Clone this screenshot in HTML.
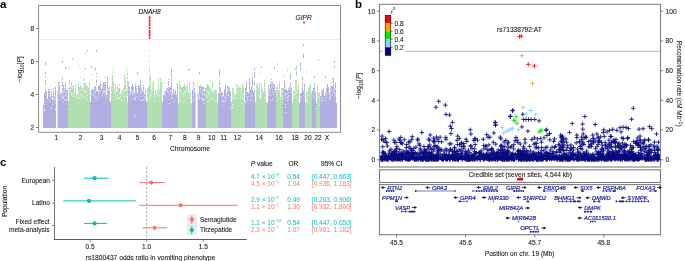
<!DOCTYPE html>
<html><head><meta charset="utf-8"><style>
html,body{margin:0;padding:0;background:#fff;}
body{width:685px;height:261px;overflow:hidden;}
svg{display:block;will-change:transform;}
.t{font-family:"Liberation Sans", sans-serif;font-size:6.6px;fill:#111;stroke:#111;stroke-width:0.07px;}
.g{font-family:"Liberation Sans", sans-serif;font-size:5.8px;font-style:italic;fill:#23239a;stroke:#23239a;stroke-width:0.2px;}
.pl{font-family:"Liberation Sans", sans-serif;font-size:11.5px;font-weight:bold;fill:#000;}
</style></head><body>
<svg width="685" height="261" viewBox="0 0 685 261">
<rect width="685" height="261" fill="#fff"/>
<g shape-rendering="crispEdges">
<rect x="43.40" y="105.10" width="24.90" height="22.40" fill="#b1afe1"/>
<rect x="68.30" y="100.97" width="22.10" height="26.53" fill="#b0dfb0"/>
<rect x="90.40" y="101.80" width="20.40" height="25.70" fill="#b1afe1"/>
<rect x="110.80" y="101.80" width="16.90" height="25.70" fill="#b0dfb0"/>
<rect x="127.70" y="101.80" width="19.00" height="25.70" fill="#b1afe1"/>
<rect x="146.70" y="100.97" width="15.60" height="26.53" fill="#b0dfb0"/>
<rect x="162.30" y="101.80" width="16.00" height="25.70" fill="#b1afe1"/>
<rect x="178.30" y="102.62" width="13.20" height="24.88" fill="#b0dfb0"/>
<rect x="191.50" y="101.80" width="14.50" height="25.70" fill="#b1afe1"/>
<rect x="206.00" y="102.62" width="11.50" height="24.88" fill="#b0dfb0"/>
<rect x="217.50" y="101.80" width="13.90" height="25.70" fill="#b1afe1"/>
<rect x="231.40" y="101.80" width="13.10" height="25.70" fill="#b0dfb0"/>
<rect x="244.50" y="102.62" width="10.90" height="24.88" fill="#b1afe1"/>
<rect x="255.40" y="101.80" width="11.20" height="25.70" fill="#b0dfb0"/>
<rect x="267.20" y="102.62" width="8.80" height="24.88" fill="#b1afe1"/>
<rect x="276.00" y="102.62" width="7.00" height="24.88" fill="#b0dfb0"/>
<rect x="283.00" y="101.80" width="9.30" height="25.70" fill="#b1afe1"/>
<rect x="292.30" y="102.62" width="6.80" height="24.88" fill="#b0dfb0"/>
<rect x="299.10" y="102.62" width="6.30" height="24.88" fill="#b1afe1"/>
<rect x="305.40" y="102.62" width="6.60" height="24.88" fill="#b0dfb0"/>
<rect x="312.00" y="103.45" width="4.30" height="24.05" fill="#b1afe1"/>
<rect x="316.30" y="102.62" width="3.70" height="24.88" fill="#b0dfb0"/>
<rect x="320.00" y="102.62" width="16.50" height="24.88" fill="#b1afe1"/>
</g>
<path shape-rendering="crispEdges" fill="#b1afe1" d="M44 104.6h1V105.6h-1zM45 103.1h1V105.6h-1zM46 103.4h1V105.6h-1zM47 104.3h1V105.6h-1zM48 103.9h1V105.6h-1zM49 101.4h1V105.6h-1zM50 102.3h1V105.6h-1zM51 101.5h1V105.6h-1zM52 104.9h1V105.6h-1zM53 102.8h1V105.6h-1zM54 103.5h1V105.6h-1zM55 104.3h1V105.6h-1zM56 98.6h1V105.6h-1zM57 103.1h1V105.6h-1zM58 100.7h1V105.6h-1zM59 103.5h1V105.6h-1zM60 101.0h1V105.6h-1zM61 101.1h1V105.6h-1zM62 101.8h1V105.6h-1zM63 102.7h1V105.6h-1zM64 101.7h1V105.6h-1zM65 104.5h1V105.6h-1zM66 104.3h1V105.6h-1zM67 103.8h1V105.6h-1zM91 98.0h1V102.3h-1zM92 95.1h1V102.3h-1zM93 101.5h1V102.3h-1zM94 97.6h1V102.3h-1zM95 99.1h1V102.3h-1zM96 99.4h1V102.3h-1zM97 101.6h1V102.3h-1zM98 94.6h1V102.3h-1zM99 97.4h1V102.3h-1zM100 94.4h1V102.3h-1zM101 99.2h1V102.3h-1zM102 99.4h1V102.3h-1zM103 95.7h1V102.3h-1zM104 96.4h1V102.3h-1zM105 98.7h1V102.3h-1zM106 100.2h1V102.3h-1zM107 94.8h1V102.3h-1zM108 99.3h1V102.3h-1zM109 101.5h1V102.3h-1zM128 95.2h1V102.3h-1zM129 100.1h1V102.3h-1zM130 101.5h1V102.3h-1zM131 100.6h1V102.3h-1zM132 97.2h1V102.3h-1zM133 101.7h1V102.3h-1zM134 100.2h1V102.3h-1zM135 99.8h1V102.3h-1zM136 99.3h1V102.3h-1zM137 101.4h1V102.3h-1zM138 96.8h1V102.3h-1zM139 100.2h1V102.3h-1zM140 95.7h1V102.3h-1zM141 99.9h1V102.3h-1zM142 99.7h1V102.3h-1zM143 101.6h1V102.3h-1zM144 99.6h1V102.3h-1zM145 100.1h1V102.3h-1zM163 98.6h1V102.3h-1zM164 101.5h1V102.3h-1zM165 98.5h1V102.3h-1zM166 101.6h1V102.3h-1zM167 96.9h1V102.3h-1zM168 95.8h1V102.3h-1zM169 99.5h1V102.3h-1zM170 100.2h1V102.3h-1zM171 99.1h1V102.3h-1zM172 101.2h1V102.3h-1zM173 97.4h1V102.3h-1zM174 100.8h1V102.3h-1zM175 96.9h1V102.3h-1zM176 98.6h1V102.3h-1zM177 98.0h1V102.3h-1zM192 96.0h1V102.3h-1zM193 101.8h1V102.3h-1zM194 100.5h1V102.3h-1zM195 100.4h1V102.3h-1zM196 99.3h1V102.3h-1zM197 99.8h1V102.3h-1zM198 101.2h1V102.3h-1zM199 97.6h1V102.3h-1zM200 92.9h1V102.3h-1zM201 98.6h1V102.3h-1zM202 99.5h1V102.3h-1zM203 101.1h1V102.3h-1zM204 101.5h1V102.3h-1zM205 100.3h1V102.3h-1zM218 101.6h1V102.3h-1zM219 95.7h1V102.3h-1zM220 97.4h1V102.3h-1zM221 99.7h1V102.3h-1zM222 101.8h1V102.3h-1zM223 101.0h1V102.3h-1zM224 99.7h1V102.3h-1zM225 99.9h1V102.3h-1zM226 101.6h1V102.3h-1zM227 96.3h1V102.3h-1zM228 96.4h1V102.3h-1zM229 98.5h1V102.3h-1zM230 101.6h1V102.3h-1zM245 98.1h1V103.1h-1zM246 96.9h1V103.1h-1zM247 101.5h1V103.1h-1zM248 100.0h1V103.1h-1zM249 96.1h1V103.1h-1zM250 102.6h1V103.1h-1zM251 99.1h1V103.1h-1zM252 96.3h1V103.1h-1zM253 100.8h1V103.1h-1zM254 96.0h1V103.1h-1zM268 95.1h1V103.1h-1zM269 101.7h1V103.1h-1zM270 97.7h1V103.1h-1zM271 93.3h1V103.1h-1zM272 101.1h1V103.1h-1zM273 100.0h1V103.1h-1zM274 97.8h1V103.1h-1zM275 97.7h1V103.1h-1zM283 101.4h1V102.3h-1zM284 100.1h1V102.3h-1zM285 100.9h1V102.3h-1zM286 99.0h1V102.3h-1zM287 99.5h1V102.3h-1zM288 101.0h1V102.3h-1zM289 97.6h1V102.3h-1zM290 88.5h1V102.3h-1zM291 96.4h1V102.3h-1zM300 102.0h1V103.1h-1zM301 97.8h1V103.1h-1zM302 89.0h1V103.1h-1zM303 100.5h1V103.1h-1zM304 96.6h1V103.1h-1zM312 98.8h1V103.9h-1zM313 102.8h1V103.9h-1zM314 97.8h1V103.9h-1zM315 101.7h1V103.9h-1zM320 101.2h1V103.1h-1zM321 101.5h1V103.1h-1zM322 101.2h1V103.1h-1zM323 100.7h1V103.1h-1zM324 102.4h1V103.1h-1zM325 101.7h1V103.1h-1zM326 98.8h1V103.1h-1zM327 99.5h1V103.1h-1zM328 96.4h1V103.1h-1zM329 100.8h1V103.1h-1zM330 102.4h1V103.1h-1zM331 95.6h1V103.1h-1zM332 100.2h1V103.1h-1zM333 92.2h1V103.1h-1zM334 99.2h1V103.1h-1zM335 101.9h1V103.1h-1z"/>
<path shape-rendering="crispEdges" fill="#b0dfb0" d="M69 94.3h1V101.5h-1zM70 98.8h1V101.5h-1zM71 96.3h1V101.5h-1zM72 97.0h1V101.5h-1zM73 97.3h1V101.5h-1zM74 97.3h1V101.5h-1zM75 100.5h1V101.5h-1zM76 100.9h1V101.5h-1zM77 99.6h1V101.5h-1zM78 101.0h1V101.5h-1zM79 100.4h1V101.5h-1zM80 98.9h1V101.5h-1zM81 98.1h1V101.5h-1zM82 98.3h1V101.5h-1zM83 100.1h1V101.5h-1zM84 99.1h1V101.5h-1zM85 97.0h1V101.5h-1zM86 100.8h1V101.5h-1zM87 98.7h1V101.5h-1zM88 94.6h1V101.5h-1zM89 95.2h1V101.5h-1zM111 97.9h1V102.3h-1zM112 88.6h1V102.3h-1zM113 92.8h1V102.3h-1zM114 101.7h1V102.3h-1zM115 98.5h1V102.3h-1zM116 100.4h1V102.3h-1zM117 95.8h1V102.3h-1zM118 99.7h1V102.3h-1zM119 100.1h1V102.3h-1zM120 98.4h1V102.3h-1zM121 99.9h1V102.3h-1zM122 100.3h1V102.3h-1zM123 96.7h1V102.3h-1zM124 93.2h1V102.3h-1zM125 96.4h1V102.3h-1zM126 101.3h1V102.3h-1zM147 100.8h1V101.5h-1zM148 95.9h1V101.5h-1zM149 100.3h1V101.5h-1zM150 98.1h1V101.5h-1zM151 95.8h1V101.5h-1zM152 92.8h1V101.5h-1zM153 98.7h1V101.5h-1zM154 100.8h1V101.5h-1zM155 97.5h1V101.5h-1zM156 97.8h1V101.5h-1zM157 100.2h1V101.5h-1zM158 97.5h1V101.5h-1zM159 100.1h1V101.5h-1zM160 94.5h1V101.5h-1zM161 99.8h1V101.5h-1zM179 94.8h1V103.1h-1zM180 102.5h1V103.1h-1zM181 100.6h1V103.1h-1zM182 94.0h1V103.1h-1zM183 102.0h1V103.1h-1zM184 101.8h1V103.1h-1zM185 97.9h1V103.1h-1zM186 98.2h1V103.1h-1zM187 99.7h1V103.1h-1zM188 98.3h1V103.1h-1zM189 96.8h1V103.1h-1zM190 99.5h1V103.1h-1zM206 101.9h1V103.1h-1zM207 98.2h1V103.1h-1zM208 96.3h1V103.1h-1zM209 102.1h1V103.1h-1zM210 98.2h1V103.1h-1zM211 101.3h1V103.1h-1zM212 99.7h1V103.1h-1zM213 101.9h1V103.1h-1zM214 102.4h1V103.1h-1zM215 101.6h1V103.1h-1zM216 99.8h1V103.1h-1zM232 98.9h1V102.3h-1zM233 98.6h1V102.3h-1zM234 98.8h1V102.3h-1zM235 100.3h1V102.3h-1zM236 101.0h1V102.3h-1zM237 96.9h1V102.3h-1zM238 95.2h1V102.3h-1zM239 98.1h1V102.3h-1zM240 99.9h1V102.3h-1zM241 99.4h1V102.3h-1zM242 101.7h1V102.3h-1zM243 98.7h1V102.3h-1zM256 100.2h1V102.3h-1zM257 95.0h1V102.3h-1zM258 99.4h1V102.3h-1zM259 96.7h1V102.3h-1zM260 101.8h1V102.3h-1zM261 100.3h1V102.3h-1zM262 97.8h1V102.3h-1zM263 99.8h1V102.3h-1zM264 94.0h1V102.3h-1zM265 94.0h1V102.3h-1zM276 100.9h1V103.1h-1zM277 99.4h1V103.1h-1zM278 97.5h1V103.1h-1zM279 93.9h1V103.1h-1zM280 102.3h1V103.1h-1zM281 99.1h1V103.1h-1zM282 98.8h1V103.1h-1zM293 99.3h1V103.1h-1zM294 102.6h1V103.1h-1zM295 100.1h1V103.1h-1zM296 101.4h1V103.1h-1zM297 95.1h1V103.1h-1zM298 98.0h1V103.1h-1zM306 100.8h1V103.1h-1zM307 102.0h1V103.1h-1zM308 97.7h1V103.1h-1zM309 97.0h1V103.1h-1zM310 94.0h1V103.1h-1zM311 102.4h1V103.1h-1zM317 99.9h1V103.1h-1zM318 97.3h1V103.1h-1zM319 101.0h1V103.1h-1z"/>
<path shape-rendering="crispEdges" fill="#d4d3ee" d="M44 93.7h1V104.6h-1zM45 91.2h1V103.1h-1zM46 93.2h1V103.4h-1zM47 100.0h1V104.3h-1zM48 90.4h1V103.9h-1zM49 90.5h1V101.4h-1zM50 97.3h1V102.3h-1zM51 90.6h1V101.5h-1zM52 100.8h1V104.9h-1zM53 90.0h1V102.8h-1zM54 96.0h1V103.5h-1zM55 87.9h1V104.3h-1zM56 90.2h1V98.6h-1zM57 91.8h1V103.1h-1zM58 84.9h1V100.7h-1zM59 85.1h1V103.5h-1zM60 95.3h1V101.0h-1zM61 93.4h1V101.1h-1zM62 89.9h1V101.8h-1zM63 86.1h1V102.7h-1zM64 90.3h1V101.7h-1zM65 87.4h1V104.5h-1zM66 91.0h1V104.3h-1zM67 90.7h1V103.8h-1zM91 91.5h1V98.0h-1zM92 90.3h1V95.1h-1zM93 91.7h1V101.5h-1zM94 86.7h1V97.6h-1zM95 88.3h1V99.1h-1zM96 90.6h1V99.4h-1zM97 91.6h1V101.6h-1zM98 87.6h1V94.6h-1zM99 86.8h1V97.4h-1zM100 82.9h1V94.4h-1zM101 90.4h1V99.2h-1zM102 87.0h1V99.4h-1zM103 83.0h1V95.7h-1zM104 83.6h1V96.4h-1zM105 84.6h1V98.7h-1zM106 95.7h1V100.2h-1zM107 80.1h1V94.8h-1zM108 90.0h1V99.3h-1zM109 89.6h1V101.5h-1zM128 84.0h1V95.2h-1zM129 88.7h1V100.1h-1zM130 93.7h1V101.5h-1zM131 87.4h1V100.6h-1zM132 85.4h1V97.2h-1zM133 87.2h1V101.7h-1zM134 92.8h1V100.2h-1zM135 85.5h1V99.8h-1zM136 88.4h1V99.3h-1zM137 93.3h1V101.4h-1zM138 88.0h1V96.8h-1zM139 86.6h1V100.2h-1zM140 81.6h1V95.7h-1zM141 90.4h1V99.9h-1zM142 90.5h1V99.7h-1zM143 86.8h1V101.6h-1zM144 94.4h1V99.6h-1zM145 91.1h1V100.1h-1zM163 95.4h1V98.6h-1zM164 91.4h1V101.5h-1zM165 91.8h1V98.5h-1zM166 87.6h1V101.6h-1zM167 89.1h1V96.9h-1zM168 80.9h1V95.8h-1zM169 88.9h1V99.5h-1zM170 88.6h1V100.2h-1zM171 82.2h1V99.1h-1zM172 93.9h1V101.2h-1zM173 89.7h1V97.4h-1zM174 92.8h1V100.8h-1zM175 90.9h1V96.9h-1zM176 94.2h1V98.6h-1zM177 83.9h1V98.0h-1zM192 90.6h1V96.0h-1zM193 84.4h1V101.8h-1zM194 90.2h1V100.5h-1zM195 95.2h1V100.4h-1zM196 90.0h1V99.3h-1zM197 87.2h1V99.8h-1zM198 94.4h1V101.2h-1zM199 87.9h1V97.6h-1zM200 86.3h1V92.9h-1zM201 89.1h1V98.6h-1zM202 88.3h1V99.5h-1zM203 88.3h1V101.1h-1zM204 91.8h1V101.5h-1zM205 90.1h1V100.3h-1zM218 94.5h1V101.6h-1zM219 86.2h1V95.7h-1zM220 87.7h1V97.4h-1zM221 93.2h1V99.7h-1zM222 94.5h1V101.8h-1zM223 95.6h1V101.0h-1zM224 90.4h1V99.7h-1zM225 87.1h1V99.9h-1zM226 95.0h1V101.6h-1zM227 86.7h1V96.3h-1zM228 88.5h1V96.4h-1zM229 87.5h1V98.5h-1zM230 92.8h1V101.6h-1zM245 87.6h1V98.1h-1zM246 84.3h1V96.9h-1zM247 93.1h1V101.5h-1zM248 92.9h1V100.0h-1zM249 80.4h1V96.1h-1zM250 92.2h1V102.6h-1zM251 88.7h1V99.1h-1zM252 77.5h1V96.3h-1zM253 93.5h1V100.8h-1zM254 90.0h1V96.0h-1zM268 85.0h1V95.1h-1zM269 87.5h1V101.7h-1zM270 85.2h1V97.7h-1zM271 81.3h1V93.3h-1zM272 83.6h1V101.1h-1zM273 86.4h1V100.0h-1zM274 87.0h1V97.8h-1zM275 91.3h1V97.7h-1zM283 90.4h1V101.4h-1zM284 82.8h1V100.1h-1zM285 89.3h1V100.9h-1zM286 90.8h1V99.0h-1zM287 91.2h1V99.5h-1zM288 89.9h1V101.0h-1zM289 88.2h1V97.6h-1zM290 83.0h1V88.5h-1zM291 89.1h1V96.4h-1zM300 92.5h1V102.0h-1zM301 93.4h1V97.8h-1zM302 77.1h1V89.0h-1zM303 92.4h1V100.5h-1zM304 84.5h1V96.6h-1zM312 91.9h1V98.8h-1zM313 90.0h1V102.8h-1zM314 84.2h1V97.8h-1zM315 93.5h1V101.7h-1zM320 96.3h1V101.2h-1zM321 90.5h1V101.5h-1zM322 89.9h1V101.2h-1zM323 87.7h1V100.7h-1zM324 96.6h1V102.4h-1zM325 93.0h1V101.7h-1zM326 88.5h1V98.8h-1zM327 85.5h1V99.5h-1zM328 88.4h1V96.4h-1zM329 94.0h1V100.8h-1zM330 88.7h1V102.4h-1zM331 87.0h1V95.6h-1zM332 87.9h1V100.2h-1zM333 79.9h1V92.2h-1zM334 90.0h1V99.2h-1zM335 86.2h1V101.9h-1z"/>
<path shape-rendering="crispEdges" fill="#d3edd3" d="M69 81.7h1V94.3h-1zM70 88.6h1V98.8h-1zM71 83.9h1V96.3h-1zM72 88.0h1V97.0h-1zM73 87.6h1V97.3h-1zM74 93.4h1V97.3h-1zM75 85.2h1V100.5h-1zM76 95.8h1V100.9h-1zM77 93.8h1V99.6h-1zM78 84.6h1V101.0h-1zM79 88.5h1V100.4h-1zM80 85.9h1V98.9h-1zM81 88.3h1V98.1h-1zM82 88.4h1V98.3h-1zM83 87.2h1V100.1h-1zM84 85.3h1V99.1h-1zM85 84.9h1V97.0h-1zM86 86.1h1V100.8h-1zM87 86.8h1V98.7h-1zM88 87.9h1V94.6h-1zM89 84.3h1V95.2h-1zM111 85.7h1V97.9h-1zM112 78.7h1V88.6h-1zM113 83.3h1V92.8h-1zM114 90.6h1V101.7h-1zM115 86.2h1V98.5h-1zM116 90.8h1V100.4h-1zM117 87.2h1V95.8h-1zM118 87.9h1V99.7h-1zM119 86.6h1V100.1h-1zM120 94.8h1V98.4h-1zM121 91.6h1V99.9h-1zM122 89.5h1V100.3h-1zM123 89.1h1V96.7h-1zM124 77.7h1V93.2h-1zM125 80.6h1V96.4h-1zM126 91.0h1V101.3h-1zM147 89.9h1V100.8h-1zM148 87.6h1V95.9h-1zM149 85.7h1V100.3h-1zM150 79.5h1V98.1h-1zM151 90.5h1V95.8h-1zM152 84.5h1V92.8h-1zM153 83.0h1V98.7h-1zM154 95.5h1V100.8h-1zM155 90.6h1V97.5h-1zM156 93.8h1V97.8h-1zM157 90.1h1V100.2h-1zM158 79.7h1V97.5h-1zM159 88.9h1V100.1h-1zM160 80.8h1V94.5h-1zM161 85.0h1V99.8h-1zM179 83.5h1V94.8h-1zM180 86.7h1V102.5h-1zM181 88.7h1V100.6h-1zM182 87.8h1V94.0h-1zM183 88.7h1V102.0h-1zM184 86.6h1V101.8h-1zM185 87.6h1V97.9h-1zM186 87.6h1V98.2h-1zM187 86.5h1V99.7h-1zM188 91.8h1V98.3h-1zM189 85.3h1V96.8h-1zM190 89.2h1V99.5h-1zM206 88.2h1V101.9h-1zM207 86.3h1V98.2h-1zM208 85.2h1V96.3h-1zM209 88.4h1V102.1h-1zM210 88.2h1V98.2h-1zM211 90.2h1V101.3h-1zM212 84.2h1V99.7h-1zM213 93.7h1V101.9h-1zM214 91.0h1V102.4h-1zM215 91.6h1V101.6h-1zM216 91.1h1V99.8h-1zM232 89.5h1V98.9h-1zM233 88.0h1V98.6h-1zM234 91.5h1V98.8h-1zM235 95.4h1V100.3h-1zM236 87.4h1V101.0h-1zM237 85.8h1V96.9h-1zM238 89.0h1V95.2h-1zM239 89.0h1V98.1h-1zM240 87.9h1V99.9h-1zM241 91.7h1V99.4h-1zM242 86.6h1V101.7h-1zM243 85.7h1V98.7h-1zM256 87.2h1V100.2h-1zM257 84.2h1V95.0h-1zM258 89.4h1V99.4h-1zM259 82.1h1V96.7h-1zM260 99.1h1V101.8h-1zM261 85.7h1V100.3h-1zM262 90.0h1V97.8h-1zM263 92.8h1V99.8h-1zM264 82.0h1V94.0h-1zM265 91.5h1V94.0h-1zM276 89.1h1V100.9h-1zM277 87.0h1V99.4h-1zM278 90.8h1V97.5h-1zM279 82.9h1V93.9h-1zM280 96.6h1V102.3h-1zM281 88.9h1V99.1h-1zM282 89.5h1V98.8h-1zM293 90.2h1V99.3h-1zM294 92.6h1V102.6h-1zM295 82.2h1V100.1h-1zM296 81.9h1V101.4h-1zM297 90.5h1V95.1h-1zM298 84.8h1V98.0h-1zM306 92.0h1V100.8h-1zM307 92.5h1V102.0h-1zM308 89.3h1V97.7h-1zM309 86.1h1V97.0h-1zM310 83.1h1V94.0h-1zM311 93.8h1V102.4h-1zM317 88.5h1V99.9h-1zM318 93.5h1V97.3h-1zM319 93.7h1V101.0h-1z"/>
<path shape-rendering="crispEdges" fill="#b1afe1" d="M44 93h1v11h-1zM45 62h1v3h-1zM45 72h1v2h-1zM45 76h1v1h-1zM45 80h1v2h-1zM45 83h1v2h-1zM45 89h1v2h-1zM45 92h1v2h-1zM45 95h1v4h-1zM45 100h1v3h-1zM46 91h1v3h-1zM46 95h1v7h-1zM46 103h1v1h-1zM47 99h1v6h-1zM48 89h1v1h-1zM48 91h1v2h-1zM48 94h1v1h-1zM48 96h1v8h-1zM49 89h1v1h-1zM49 91h1v8h-1zM49 100h1v1h-1zM50 97h1v4h-1zM51 89h1v1h-1zM51 91h1v1h-1zM51 94h1v1h-1zM51 96h1v6h-1zM52 96h1v1h-1zM52 100h1v4h-1zM53 88h1v1h-1zM53 92h1v3h-1zM53 96h1v1h-1zM53 99h1v2h-1zM53 102h1v1h-1zM54 97h1v2h-1zM54 101h1v2h-1zM55 87h1v3h-1zM55 91h1v4h-1zM55 97h1v1h-1zM55 100h1v2h-1zM55 103h1v2h-1zM56 89h1v5h-1zM56 96h1v2h-1zM57 90h1v14h-1zM58 82h1v2h-1zM58 85h1v1h-1zM58 88h1v1h-1zM58 91h1v9h-1zM59 82h1v1h-1zM59 85h1v7h-1zM59 94h1v4h-1zM59 99h1v5h-1zM60 94h1v1h-1zM60 96h1v3h-1zM60 100h1v2h-1zM61 92h1v2h-1zM61 95h1v1h-1zM61 97h1v3h-1zM61 101h1v1h-1zM62 61h1v2h-1zM62 77h1v1h-1zM62 79h1v1h-1zM62 81h1v6h-1zM62 88h1v2h-1zM62 94h1v2h-1zM62 99h1v3h-1zM63 85h1v1h-1zM63 87h1v4h-1zM63 93h1v2h-1zM63 99h1v2h-1zM64 88h1v1h-1zM64 90h1v1h-1zM64 93h1v6h-1zM64 100h1v2h-1zM65 67h1v2h-1zM65 82h1v1h-1zM65 84h1v3h-1zM65 89h1v3h-1zM65 93h1v1h-1zM65 97h1v2h-1zM65 101h1v4h-1zM66 90h1v1h-1zM66 93h1v1h-1zM66 95h1v4h-1zM66 102h1v2h-1zM67 88h1v1h-1zM67 90h1v6h-1zM67 97h1v2h-1zM67 100h1v4h-1zM91 66h1v2h-1zM91 74h1v1h-1zM91 90h1v4h-1zM91 95h1v4h-1zM92 89h1v4h-1zM92 94h1v2h-1zM93 90h1v2h-1zM93 93h1v1h-1zM93 96h1v1h-1zM93 98h1v3h-1zM94 70h1v1h-1zM94 87h1v1h-1zM94 89h1v6h-1zM94 97h1v1h-1zM95 68h1v2h-1zM95 86h1v4h-1zM95 94h1v3h-1zM95 99h1v1h-1zM96 50h1v2h-1zM96 73h1v1h-1zM96 76h1v1h-1zM96 80h1v3h-1zM96 84h1v1h-1zM96 89h1v1h-1zM96 91h1v7h-1zM96 99h1v1h-1zM97 91h1v5h-1zM97 97h1v1h-1zM97 99h1v1h-1zM97 101h1v1h-1zM98 86h1v3h-1zM99 85h1v5h-1zM99 92h1v4h-1zM99 97h1v1h-1zM100 81h1v1h-1zM100 83h1v2h-1zM100 87h1v3h-1zM100 91h1v1h-1zM100 93h1v1h-1zM101 89h1v5h-1zM101 95h1v4h-1zM102 85h1v1h-1zM102 88h1v3h-1zM102 92h1v3h-1zM102 97h1v3h-1zM103 82h1v6h-1zM103 89h1v1h-1zM103 92h1v1h-1zM103 94h1v2h-1zM104 82h1v1h-1zM104 85h1v1h-1zM104 87h1v1h-1zM104 89h1v1h-1zM104 92h1v2h-1zM104 95h1v2h-1zM105 77h1v1h-1zM105 82h1v8h-1zM105 93h1v1h-1zM105 95h1v2h-1zM105 98h1v1h-1zM106 95h1v2h-1zM106 98h1v3h-1zM107 77h1v4h-1zM107 82h1v2h-1zM107 85h1v3h-1zM107 89h1v1h-1zM107 91h1v1h-1zM107 93h1v1h-1zM108 88h1v1h-1zM108 91h1v3h-1zM108 95h1v1h-1zM108 97h1v1h-1zM108 99h1v1h-1zM109 87h1v2h-1zM109 90h1v3h-1zM109 94h1v1h-1zM109 96h1v2h-1zM109 101h1v1h-1zM128 82h1v2h-1zM128 86h1v3h-1zM128 90h1v4h-1zM128 95h1v1h-1zM129 87h1v2h-1zM129 91h1v3h-1zM129 95h1v5h-1zM130 92h1v1h-1zM130 94h1v1h-1zM130 96h1v5h-1zM131 86h1v1h-1zM131 88h1v1h-1zM131 90h1v1h-1zM131 92h1v6h-1zM131 99h1v2h-1zM132 84h1v6h-1zM132 95h1v3h-1zM133 87h1v2h-1zM133 91h1v1h-1zM133 95h1v2h-1zM133 98h1v2h-1zM133 101h1v1h-1zM134 93h1v5h-1zM135 83h1v1h-1zM135 85h1v6h-1zM135 92h1v2h-1zM135 95h1v1h-1zM136 86h1v1h-1zM136 88h1v1h-1zM136 92h1v4h-1zM136 97h1v3h-1zM137 72h1v2h-1zM137 94h1v2h-1zM137 97h1v1h-1zM137 99h1v2h-1zM138 86h1v11h-1zM139 85h1v1h-1zM139 87h1v2h-1zM139 90h1v6h-1zM139 97h1v2h-1zM139 100h1v1h-1zM140 80h1v2h-1zM140 83h1v3h-1zM140 87h1v3h-1zM140 95h1v1h-1zM141 89h1v4h-1zM141 94h1v2h-1zM141 97h1v3h-1zM142 92h1v7h-1zM143 85h1v1h-1zM143 87h1v2h-1zM143 90h1v1h-1zM143 92h1v3h-1zM143 96h1v3h-1zM143 101h1v1h-1zM144 95h1v1h-1zM144 97h1v2h-1zM145 90h1v4h-1zM145 95h1v2h-1zM145 98h1v1h-1zM163 95h1v3h-1zM164 83h1v1h-1zM164 91h1v1h-1zM164 96h1v3h-1zM164 100h1v2h-1zM165 91h1v1h-1zM165 94h1v5h-1zM166 89h1v2h-1zM166 92h1v3h-1zM166 97h1v4h-1zM167 88h1v1h-1zM167 92h1v5h-1zM168 79h1v1h-1zM168 81h1v2h-1zM168 84h1v1h-1zM168 87h1v1h-1zM168 89h1v3h-1zM168 93h1v3h-1zM169 88h1v2h-1zM169 91h1v1h-1zM169 93h1v1h-1zM169 95h1v4h-1zM170 87h1v3h-1zM170 92h1v1h-1zM170 94h1v7h-1zM171 69h1v4h-1zM171 74h1v3h-1zM171 78h1v3h-1zM171 82h1v5h-1zM171 88h1v3h-1zM171 92h1v2h-1zM171 97h1v1h-1zM171 99h1v1h-1zM172 95h1v2h-1zM172 99h1v3h-1zM173 89h1v2h-1zM173 93h1v5h-1zM174 92h1v1h-1zM174 95h1v5h-1zM175 90h1v3h-1zM175 94h1v3h-1zM176 97h1v2h-1zM177 83h1v3h-1zM177 87h1v7h-1zM177 95h1v4h-1zM192 90h1v6h-1zM193 82h1v2h-1zM193 96h1v1h-1zM193 98h1v1h-1zM194 88h1v3h-1zM194 92h1v7h-1zM194 100h1v1h-1zM195 94h1v1h-1zM195 96h1v2h-1zM195 99h1v2h-1zM196 90h1v1h-1zM196 94h1v6h-1zM197 85h1v3h-1zM197 89h1v1h-1zM197 93h1v1h-1zM197 96h1v1h-1zM197 99h1v1h-1zM198 95h1v2h-1zM198 98h1v1h-1zM198 100h1v2h-1zM199 72h1v2h-1zM199 86h1v3h-1zM199 90h1v5h-1zM200 85h1v1h-1zM200 87h1v1h-1zM200 90h1v1h-1zM201 87h1v2h-1zM201 90h1v4h-1zM201 95h1v2h-1zM202 86h1v3h-1zM202 92h1v1h-1zM202 96h1v2h-1zM203 87h1v2h-1zM203 91h1v1h-1zM203 93h1v1h-1zM203 95h1v3h-1zM203 101h1v1h-1zM204 91h1v1h-1zM204 93h1v1h-1zM204 96h1v3h-1zM204 100h1v1h-1zM205 88h1v2h-1zM205 91h1v1h-1zM205 93h1v1h-1zM205 97h1v1h-1zM205 99h1v2h-1zM218 93h1v2h-1zM218 96h1v1h-1zM218 98h1v4h-1zM219 70h1v6h-1zM219 77h1v1h-1zM219 80h1v1h-1zM219 82h1v3h-1zM219 87h1v2h-1zM219 90h1v2h-1zM219 93h1v3h-1zM220 88h1v1h-1zM220 91h1v1h-1zM220 95h1v2h-1zM221 92h1v4h-1zM221 97h1v2h-1zM222 93h1v2h-1zM222 97h1v2h-1zM222 100h1v1h-1zM223 96h1v4h-1zM224 89h1v1h-1zM224 91h1v6h-1zM224 98h1v2h-1zM225 85h1v11h-1zM225 97h1v1h-1zM225 99h1v1h-1zM226 94h1v1h-1zM226 96h1v1h-1zM226 98h1v2h-1zM226 101h1v1h-1zM227 86h1v2h-1zM227 91h1v4h-1zM227 96h1v1h-1zM228 87h1v3h-1zM228 91h1v3h-1zM229 86h1v1h-1zM229 88h1v1h-1zM229 91h1v1h-1zM229 93h1v4h-1zM229 98h1v1h-1zM230 91h1v5h-1zM230 97h1v2h-1zM245 88h1v2h-1zM245 92h1v2h-1zM245 95h1v4h-1zM246 82h1v2h-1zM246 85h1v5h-1zM246 91h1v1h-1zM246 93h1v1h-1zM246 95h1v1h-1zM247 92h1v5h-1zM247 101h1v1h-1zM248 93h1v3h-1zM248 97h1v4h-1zM249 78h1v2h-1zM249 81h1v9h-1zM249 91h1v2h-1zM249 94h1v3h-1zM250 90h1v3h-1zM250 94h1v2h-1zM250 97h1v2h-1zM250 101h1v2h-1zM251 87h1v8h-1zM251 97h1v2h-1zM252 74h1v1h-1zM252 77h1v1h-1zM252 80h1v4h-1zM252 85h1v1h-1zM252 90h1v4h-1zM252 96h1v1h-1zM253 92h1v9h-1zM254 68h1v2h-1zM254 72h1v2h-1zM254 75h1v3h-1zM254 82h1v3h-1zM254 90h1v3h-1zM254 94h1v1h-1zM268 89h1v1h-1zM268 91h1v2h-1zM269 85h1v1h-1zM269 90h1v1h-1zM269 93h1v2h-1zM269 96h1v2h-1zM269 99h1v3h-1zM270 84h1v4h-1zM270 89h1v1h-1zM270 91h1v4h-1zM270 96h1v2h-1zM271 79h1v1h-1zM271 83h1v1h-1zM271 88h1v6h-1zM272 82h1v2h-1zM272 85h1v1h-1zM272 87h1v2h-1zM272 91h1v1h-1zM272 93h1v5h-1zM273 84h1v2h-1zM273 88h1v4h-1zM273 93h1v1h-1zM273 95h1v5h-1zM274 67h1v2h-1zM274 85h1v4h-1zM274 90h1v2h-1zM274 93h1v1h-1zM274 95h1v3h-1zM275 92h1v4h-1zM275 97h1v1h-1zM283 88h1v3h-1zM283 93h1v5h-1zM283 99h1v2h-1zM284 76h1v1h-1zM284 80h1v3h-1zM284 84h1v2h-1zM284 87h1v1h-1zM284 90h1v1h-1zM284 92h1v3h-1zM284 97h1v1h-1zM284 99h1v2h-1zM285 86h1v1h-1zM285 90h1v3h-1zM285 96h1v2h-1zM285 99h1v1h-1zM286 89h1v4h-1zM286 95h1v2h-1zM286 98h1v1h-1zM287 70h1v1h-1zM287 91h1v2h-1zM287 94h1v2h-1zM287 99h1v1h-1zM288 88h1v1h-1zM288 90h1v2h-1zM288 93h1v2h-1zM288 97h1v2h-1zM288 100h1v2h-1zM289 87h1v1h-1zM289 89h1v2h-1zM289 92h1v3h-1zM289 96h1v1h-1zM290 74h1v4h-1zM290 79h1v1h-1zM290 82h1v3h-1zM290 86h1v1h-1zM291 88h1v1h-1zM291 91h1v1h-1zM291 94h1v3h-1zM300 63h1v4h-1zM300 68h1v2h-1zM300 94h1v2h-1zM300 97h1v2h-1zM300 102h1v1h-1zM301 93h1v3h-1zM302 77h1v3h-1zM302 85h1v2h-1zM302 88h1v2h-1zM303 44h1v2h-1zM303 54h1v4h-1zM303 91h1v4h-1zM303 96h1v3h-1zM303 100h1v1h-1zM304 84h1v3h-1zM304 89h1v1h-1zM304 91h1v1h-1zM304 93h1v1h-1zM304 95h1v2h-1zM312 91h1v4h-1zM312 96h1v2h-1zM313 88h1v2h-1zM313 91h1v1h-1zM313 94h1v2h-1zM313 97h1v2h-1zM313 100h1v3h-1zM314 76h1v2h-1zM314 83h1v2h-1zM314 87h1v2h-1zM314 90h1v2h-1zM314 93h1v1h-1zM315 92h1v3h-1zM315 96h1v3h-1zM315 100h1v2h-1zM320 96h1v2h-1zM320 99h1v3h-1zM321 91h1v1h-1zM321 96h1v1h-1zM321 98h1v2h-1zM322 90h1v8h-1zM322 99h1v1h-1zM322 101h1v1h-1zM323 89h1v3h-1zM323 93h1v7h-1zM324 96h1v2h-1zM324 99h1v3h-1zM325 76h1v2h-1zM325 92h1v1h-1zM325 94h1v2h-1zM325 97h1v2h-1zM325 100h1v1h-1zM326 88h1v4h-1zM326 95h1v4h-1zM327 84h1v13h-1zM327 98h1v2h-1zM328 87h1v4h-1zM328 92h1v4h-1zM329 95h1v1h-1zM329 99h1v2h-1zM330 86h1v1h-1zM330 88h1v1h-1zM330 92h1v2h-1zM330 97h1v1h-1zM330 100h1v3h-1zM331 82h1v1h-1zM331 86h1v2h-1zM331 90h1v6h-1zM332 78h1v1h-1zM332 86h1v5h-1zM332 93h1v1h-1zM332 96h1v5h-1zM333 78h1v2h-1zM333 81h1v2h-1zM333 84h1v4h-1zM333 89h1v2h-1zM333 92h1v1h-1zM334 61h1v2h-1zM334 66h1v2h-1zM334 88h1v1h-1zM334 91h1v1h-1zM334 94h1v2h-1zM334 97h1v2h-1zM335 83h1v5h-1zM335 90h1v3h-1zM335 96h1v5h-1z"/>
<path shape-rendering="crispEdges" fill="#f4f4fb" d="M44 109h1v2h-1zM51 108h1v1h-1zM55 109h1v1h-1zM66 109h1v1h-1zM77 102h1v1h-1zM89 106h1v1h-1zM117 97h1v1h-1zM121 100h1v1h-1zM124 96h1v1h-1zM124 100h1v1h-1zM135 115h1v1h-1zM141 100h1v1h-1zM155 101h1v1h-1zM169 103h1v1h-1zM173 102h1v1h-1zM190 102h1v1h-1zM199 99h1v1h-1zM202 100h1v1h-1zM204 103h1v1h-1zM222 105h1v1h-1zM223 101h1v1h-1zM224 101h1v1h-1zM230 108h1v1h-1zM232 104h1v1h-1zM232 107h1v1h-1zM241 103h1v1h-1zM242 104h1v1h-1zM245 102h1v1h-1zM252 100h1v1h-1zM264 97h1v1h-1zM270 100h1v1h-1zM277 100h1v1h-1zM285 104h1v1h-1zM285 107h1v1h-1zM285 112h1v1h-1zM287 100h1v1h-1zM297 99h1v1h-1zM307 102h1v1h-1zM315 108h1v1h-1zM319 105h1v1h-1z"/>
<path shape-rendering="crispEdges" fill="#b0dfb0" d="M69 68h1v1h-1zM69 80h1v3h-1zM69 84h1v1h-1zM69 88h1v2h-1zM69 91h1v1h-1zM69 93h1v2h-1zM70 87h1v2h-1zM70 91h1v3h-1zM70 95h1v4h-1zM71 82h1v4h-1zM71 88h1v1h-1zM71 90h1v2h-1zM71 96h1v1h-1zM72 58h1v2h-1zM72 86h1v1h-1zM72 89h1v4h-1zM72 94h1v1h-1zM73 86h1v3h-1zM73 90h1v2h-1zM73 93h1v1h-1zM73 95h1v1h-1zM73 97h1v1h-1zM74 93h1v1h-1zM74 95h1v1h-1zM74 97h1v1h-1zM75 84h1v3h-1zM75 88h1v1h-1zM75 91h1v3h-1zM75 95h1v3h-1zM75 99h1v2h-1zM76 95h1v1h-1zM76 99h1v2h-1zM77 94h1v5h-1zM78 82h1v1h-1zM78 84h1v1h-1zM78 87h1v3h-1zM78 91h1v1h-1zM78 98h1v3h-1zM79 65h1v1h-1zM79 87h1v5h-1zM79 93h1v4h-1zM79 99h1v2h-1zM80 77h1v1h-1zM80 82h1v1h-1zM80 85h1v1h-1zM80 87h1v3h-1zM80 91h1v3h-1zM80 95h1v3h-1zM81 87h1v1h-1zM81 91h1v2h-1zM81 94h1v1h-1zM81 97h1v1h-1zM82 89h1v5h-1zM82 95h1v2h-1zM82 98h1v1h-1zM83 78h1v3h-1zM83 83h1v1h-1zM83 86h1v1h-1zM83 88h1v2h-1zM83 91h1v5h-1zM83 97h1v1h-1zM83 99h1v2h-1zM84 83h1v3h-1zM84 87h1v2h-1zM84 94h1v2h-1zM84 97h1v2h-1zM85 53h1v1h-1zM85 68h1v2h-1zM85 83h1v6h-1zM85 90h1v1h-1zM85 92h1v2h-1zM85 95h1v2h-1zM86 88h1v3h-1zM86 93h1v1h-1zM86 95h1v3h-1zM86 99h1v1h-1zM87 50h1v2h-1zM87 86h1v3h-1zM87 90h1v1h-1zM87 92h1v3h-1zM87 96h1v2h-1zM88 88h1v7h-1zM89 83h1v6h-1zM89 90h1v3h-1zM89 94h1v1h-1zM111 86h1v1h-1zM111 89h1v1h-1zM111 93h1v5h-1zM112 70h1v1h-1zM112 72h1v1h-1zM112 75h1v13h-1zM112 89h1v1h-1zM112 92h1v3h-1zM113 82h1v4h-1zM113 87h1v6h-1zM114 89h1v1h-1zM114 94h1v1h-1zM114 97h1v2h-1zM114 100h1v2h-1zM115 84h1v2h-1zM115 87h1v3h-1zM115 91h1v1h-1zM115 95h1v2h-1zM116 92h1v9h-1zM117 86h1v3h-1zM117 92h1v2h-1zM118 88h1v4h-1zM118 93h1v3h-1zM119 84h1v2h-1zM119 88h1v5h-1zM119 94h1v3h-1zM119 99h1v1h-1zM120 94h1v2h-1zM121 90h1v1h-1zM121 93h1v2h-1zM121 96h1v3h-1zM122 91h1v2h-1zM122 95h1v5h-1zM123 88h1v3h-1zM123 93h1v1h-1zM123 95h1v1h-1zM124 75h1v6h-1zM124 84h1v6h-1zM124 92h1v1h-1zM125 78h1v1h-1zM125 81h1v2h-1zM125 86h1v3h-1zM125 92h1v3h-1zM126 68h1v2h-1zM126 89h1v3h-1zM126 93h1v3h-1zM126 97h1v4h-1zM127 71h1v1h-1zM127 73h1v3h-1zM127 77h1v2h-1zM127 81h1v6h-1zM127 88h1v1h-1zM127 90h1v4h-1zM127 95h1v1h-1zM147 89h1v2h-1zM147 92h1v1h-1zM147 94h1v4h-1zM147 100h1v1h-1zM148 87h1v6h-1zM148 94h1v2h-1zM149 61h1v1h-1zM149 65h1v1h-1zM149 68h1v1h-1zM149 70h1v2h-1zM149 73h1v1h-1zM149 75h1v1h-1zM149 77h1v1h-1zM149 79h1v2h-1zM149 82h1v1h-1zM149 84h1v1h-1zM149 86h1v8h-1zM149 95h1v1h-1zM149 100h1v1h-1zM150 76h1v4h-1zM150 81h1v1h-1zM150 83h1v4h-1zM150 89h1v3h-1zM150 93h1v1h-1zM150 97h1v1h-1zM151 90h1v1h-1zM151 94h1v1h-1zM152 83h1v1h-1zM152 86h1v1h-1zM152 88h1v1h-1zM152 91h1v2h-1zM153 81h1v4h-1zM153 89h1v7h-1zM153 97h1v2h-1zM154 95h1v2h-1zM154 98h1v3h-1zM155 90h1v4h-1zM155 95h1v2h-1zM156 94h1v2h-1zM156 97h1v1h-1zM157 90h1v3h-1zM157 94h1v1h-1zM157 96h1v5h-1zM158 78h1v3h-1zM158 84h1v3h-1zM158 89h1v1h-1zM158 93h1v1h-1zM158 96h1v2h-1zM159 89h1v1h-1zM159 91h1v2h-1zM159 94h1v1h-1zM159 98h1v1h-1zM159 100h1v1h-1zM160 78h1v3h-1zM160 82h1v2h-1zM160 85h1v2h-1zM160 88h1v4h-1zM160 93h1v2h-1zM161 82h1v7h-1zM161 90h1v4h-1zM161 96h1v3h-1zM179 81h1v2h-1zM179 84h1v1h-1zM179 86h1v3h-1zM179 92h1v1h-1zM179 94h1v1h-1zM180 84h1v1h-1zM180 86h1v1h-1zM180 88h1v1h-1zM180 93h1v3h-1zM180 97h1v1h-1zM180 100h1v1h-1zM180 102h1v1h-1zM181 87h1v6h-1zM181 95h1v5h-1zM182 87h1v6h-1zM182 94h1v1h-1zM183 80h1v1h-1zM183 86h1v3h-1zM183 90h1v3h-1zM183 94h1v1h-1zM183 97h1v4h-1zM184 84h1v7h-1zM184 93h1v7h-1zM184 101h1v1h-1zM185 87h1v3h-1zM185 93h1v1h-1zM185 96h1v2h-1zM186 86h1v2h-1zM186 91h1v7h-1zM187 84h1v3h-1zM187 88h1v2h-1zM187 91h1v7h-1zM187 99h1v1h-1zM188 69h1v2h-1zM188 95h1v2h-1zM189 69h1v2h-1zM189 83h1v3h-1zM189 87h1v3h-1zM189 93h1v2h-1zM190 89h1v1h-1zM190 93h1v2h-1zM190 96h1v1h-1zM190 99h1v1h-1zM206 87h1v4h-1zM206 92h1v3h-1zM206 98h1v3h-1zM207 84h1v6h-1zM207 92h1v1h-1zM207 94h1v3h-1zM208 85h1v7h-1zM208 94h1v1h-1zM208 96h1v1h-1zM209 87h1v5h-1zM209 95h1v1h-1zM209 97h1v1h-1zM209 100h1v1h-1zM209 102h1v1h-1zM210 80h1v1h-1zM210 89h1v2h-1zM210 92h1v3h-1zM210 96h1v3h-1zM211 92h1v5h-1zM211 99h1v3h-1zM212 82h1v5h-1zM212 91h1v1h-1zM212 94h1v3h-1zM213 92h1v9h-1zM214 90h1v2h-1zM214 93h1v3h-1zM214 97h1v2h-1zM214 100h1v3h-1zM215 90h1v3h-1zM215 95h1v4h-1zM215 100h1v1h-1zM216 90h1v9h-1zM232 88h1v4h-1zM232 93h1v2h-1zM232 96h1v1h-1zM233 88h1v1h-1zM233 91h1v1h-1zM233 93h1v4h-1zM234 98h1v1h-1zM235 95h1v6h-1zM236 85h1v1h-1zM236 92h1v1h-1zM236 94h1v3h-1zM236 99h1v3h-1zM237 84h1v3h-1zM237 88h1v4h-1zM237 93h1v4h-1zM238 88h1v1h-1zM238 92h1v4h-1zM239 87h1v7h-1zM239 95h1v2h-1zM240 86h1v1h-1zM240 88h1v1h-1zM240 90h1v2h-1zM240 93h1v1h-1zM240 95h1v2h-1zM240 98h1v2h-1zM241 88h1v1h-1zM241 91h1v1h-1zM241 95h1v1h-1zM242 84h1v4h-1zM242 89h1v6h-1zM242 96h1v1h-1zM242 98h1v1h-1zM242 100h1v2h-1zM243 84h1v1h-1zM243 88h1v3h-1zM243 92h1v1h-1zM243 95h1v3h-1zM256 85h1v3h-1zM256 89h1v2h-1zM256 92h1v2h-1zM256 95h1v2h-1zM256 99h1v2h-1zM257 83h1v3h-1zM257 87h1v1h-1zM257 90h1v3h-1zM257 94h1v2h-1zM258 88h1v2h-1zM258 91h1v4h-1zM258 96h1v4h-1zM259 73h1v1h-1zM259 82h1v1h-1zM259 84h1v8h-1zM259 93h1v1h-1zM259 95h1v1h-1zM260 99h1v3h-1zM261 66h1v2h-1zM261 83h1v1h-1zM261 85h1v1h-1zM261 88h1v1h-1zM261 90h1v2h-1zM261 93h1v1h-1zM261 97h1v3h-1zM262 89h1v3h-1zM262 93h1v1h-1zM262 95h1v3h-1zM263 92h1v8h-1zM264 80h1v1h-1zM264 82h1v5h-1zM264 88h1v4h-1zM264 93h1v1h-1zM265 91h1v2h-1zM276 87h1v2h-1zM276 90h1v2h-1zM276 94h1v1h-1zM276 96h1v1h-1zM276 98h1v3h-1zM277 63h1v2h-1zM277 85h1v1h-1zM277 87h1v2h-1zM277 90h1v2h-1zM277 93h1v1h-1zM277 95h1v5h-1zM278 90h1v8h-1zM279 81h1v1h-1zM279 83h1v2h-1zM279 86h1v4h-1zM279 91h1v1h-1zM279 93h1v1h-1zM280 97h1v1h-1zM280 100h1v1h-1zM281 88h1v1h-1zM281 90h1v1h-1zM281 93h1v4h-1zM281 98h1v2h-1zM282 88h1v2h-1zM282 91h1v1h-1zM282 93h1v1h-1zM282 98h1v1h-1zM293 96h1v2h-1zM293 99h1v1h-1zM294 91h1v6h-1zM294 98h1v5h-1zM295 68h1v2h-1zM295 80h1v3h-1zM295 84h1v1h-1zM295 86h1v2h-1zM295 89h1v1h-1zM295 95h1v2h-1zM295 98h1v3h-1zM296 66h1v4h-1zM296 71h1v5h-1zM296 80h1v2h-1zM296 84h1v1h-1zM296 86h1v4h-1zM296 94h1v2h-1zM296 98h1v2h-1zM297 90h1v1h-1zM297 93h1v3h-1zM298 83h1v1h-1zM298 85h1v7h-1zM298 93h1v5h-1zM306 71h1v2h-1zM306 92h1v5h-1zM306 98h1v1h-1zM307 91h1v1h-1zM307 93h1v1h-1zM307 96h1v3h-1zM308 88h1v3h-1zM308 92h1v3h-1zM308 97h1v1h-1zM309 86h1v3h-1zM309 90h1v1h-1zM309 92h1v3h-1zM309 96h1v2h-1zM310 84h1v2h-1zM310 87h1v3h-1zM310 91h1v3h-1zM311 92h1v1h-1zM311 94h1v4h-1zM311 99h1v1h-1zM311 101h1v2h-1zM317 86h1v3h-1zM317 92h1v2h-1zM317 95h1v2h-1zM317 99h1v1h-1zM318 59h1v2h-1zM318 93h1v1h-1zM318 95h1v1h-1zM319 93h1v1h-1zM319 95h1v1h-1zM319 98h1v1h-1z"/>
<rect x="56.0" y="70" width="1.6" height="58" fill="#fff"/>
<rect x="195.6" y="70" width="2.0" height="58" fill="#fff"/>
<line x1="149.6" y1="16.2" x2="149.6" y2="38.8" stroke="#ff1f30" stroke-width="1.7" stroke-dasharray="3,0.5,2.5,0.4,4,0.5,2,0.6,3.5,0.4"/>
<rect x="149" y="40.5" width="1" height="1" fill="#b0dfb0"/>
<rect x="149" y="50" width="1" height="1.2" fill="#b0dfb0"/>
<rect x="149" y="56.5" width="1" height="1.2" fill="#b0dfb0"/>
<rect x="303.3" y="21.2" width="1.4" height="2.4" fill="#f0303a"/>
<line x1="38.5" y1="39.5" x2="340.5" y2="39.5" stroke="#e6e6e6" stroke-width="0.8"/>
<rect x="38.6" y="5.5" width="301.9" height="126.8" fill="none" stroke="#8c8c8c" stroke-width="1"/>
<line x1="35.8" y1="127.50" x2="38.6" y2="127.50" stroke="#555" stroke-width="0.7"/>
<text x="34.2" y="129.80" text-anchor="end" class="t">2</text>
<line x1="35.8" y1="94.50" x2="38.6" y2="94.50" stroke="#555" stroke-width="0.7"/>
<text x="34.2" y="96.80" text-anchor="end" class="t">4</text>
<line x1="35.8" y1="61.50" x2="38.6" y2="61.50" stroke="#555" stroke-width="0.7"/>
<text x="34.2" y="63.80" text-anchor="end" class="t">6</text>
<line x1="35.8" y1="28.50" x2="38.6" y2="28.50" stroke="#555" stroke-width="0.7"/>
<text x="34.2" y="30.80" text-anchor="end" class="t">8</text>
<text x="56.40" y="139.9" text-anchor="middle" class="t">1</text>
<text x="80.50" y="139.9" text-anchor="middle" class="t">2</text>
<text x="101.50" y="139.9" text-anchor="middle" class="t">3</text>
<text x="119.50" y="139.9" text-anchor="middle" class="t">4</text>
<text x="137.70" y="139.9" text-anchor="middle" class="t">5</text>
<text x="154.20" y="139.9" text-anchor="middle" class="t">6</text>
<text x="170.30" y="139.9" text-anchor="middle" class="t">7</text>
<text x="184.80" y="139.9" text-anchor="middle" class="t">8</text>
<text x="198.60" y="139.9" text-anchor="middle" class="t">9</text>
<text x="211.70" y="139.9" text-anchor="middle" class="t">10</text>
<text x="223.80" y="139.9" text-anchor="middle" class="t">11</text>
<text x="237.40" y="139.9" text-anchor="middle" class="t">12</text>
<text x="259.20" y="139.9" text-anchor="middle" class="t">14</text>
<text x="279.00" y="139.9" text-anchor="middle" class="t">16</text>
<text x="295.10" y="139.9" text-anchor="middle" class="t">18</text>
<text x="308.00" y="139.9" text-anchor="middle" class="t">20</text>
<text x="318.10" y="139.9" text-anchor="middle" class="t">22</text>
<text x="327.00" y="139.9" text-anchor="middle" class="t">X</text>
<text x="190" y="151.3" text-anchor="middle" class="t" style="font-size:6.7px">Chromosome</text>
<text transform="translate(22.4,69.3) rotate(-90)" text-anchor="middle" class="t">−log<tspan font-size="4.6" dy="1.6">10</tspan><tspan dy="-1.6">[</tspan><tspan font-style="italic">P</tspan>]</text>
<text x="149.6" y="14.3" text-anchor="middle" class="t" font-style="italic">DNAH8</text>
<text x="303.6" y="19.7" text-anchor="middle" class="t" font-style="italic">GIPR</text>
<text x="0" y="8.3" class="pl">a</text>
<text x="0" y="165.6" class="pl">c</text>
<line x1="146.70" y1="167.2" x2="146.70" y2="239" stroke="#8a8a8a" stroke-width="0.8" stroke-dasharray="2.2,1.8"/>
<line x1="52.2" y1="180.40" x2="54.5" y2="180.40" stroke="#333" stroke-width="0.6"/>
<line x1="84.10" y1="178.20" x2="108.55" y2="178.20" stroke="#00bfc4" stroke-width="1"/>
<circle cx="94.63" cy="178.20" r="2.1" fill="#00bfc4"/>
<line x1="139.46" y1="182.60" x2="165.15" y2="182.60" stroke="#f8766d" stroke-width="1"/>
<circle cx="151.23" cy="182.60" r="2.1" fill="#f8766d"/>
<text x="50" y="182.70" text-anchor="end" class="t">European</text>
<line x1="52.2" y1="203.10" x2="54.5" y2="203.10" stroke="#333" stroke-width="0.6"/>
<line x1="63.27" y1="200.90" x2="136.06" y2="200.90" stroke="#00bfc4" stroke-width="1"/>
<circle cx="88.97" cy="200.90" r="2.1" fill="#00bfc4"/>
<line x1="139.00" y1="205.30" x2="237.26" y2="205.30" stroke="#f8766d" stroke-width="1"/>
<circle cx="180.66" cy="205.30" r="2.1" fill="#f8766d"/>
<text x="50" y="205.40" text-anchor="end" class="t">Latino</text>
<line x1="52.2" y1="225.60" x2="54.5" y2="225.60" stroke="#333" stroke-width="0.6"/>
<line x1="84.10" y1="223.40" x2="107.08" y2="223.40" stroke="#00bfc4" stroke-width="1"/>
<circle cx="94.63" cy="223.40" r="2.1" fill="#00bfc4"/>
<line x1="142.29" y1="227.80" x2="167.30" y2="227.80" stroke="#f8766d" stroke-width="1"/>
<circle cx="154.62" cy="227.80" r="2.1" fill="#f8766d"/>
<text x="49.6" y="223.9" text-anchor="end" class="t">Fixed effect</text>
<text x="49.6" y="232.0" text-anchor="end" class="t">meta-analysis</text>
<text transform="translate(7.0,201.5) rotate(-90)" text-anchor="middle" class="t">Population</text>
<line x1="54.5" y1="167.0" x2="54.5" y2="239.6" stroke="#555" stroke-width="0.8"/>
<line x1="54.1" y1="239.5" x2="246.8" y2="239.5" stroke="#333" stroke-width="0.8"/>
<line x1="90.10" y1="239.5" x2="90.10" y2="241.8" stroke="#333" stroke-width="0.6"/>
<text x="90.10" y="248.6" text-anchor="middle" class="t">0.5</text>
<line x1="146.70" y1="239.5" x2="146.70" y2="241.8" stroke="#333" stroke-width="0.6"/>
<text x="146.70" y="248.6" text-anchor="middle" class="t">1.0</text>
<line x1="203.30" y1="239.5" x2="203.30" y2="241.8" stroke="#333" stroke-width="0.6"/>
<text x="203.30" y="248.6" text-anchor="middle" class="t">1.5</text>
<text x="85.8" y="259.5" class="t" style="font-size:6.68px">rs1800437 odds ratio in vomiting phenotype</text>
<rect x="186.8" y="214.3" width="10.1" height="20.6" fill="#ebebeb"/>
<line x1="191.8" y1="215.6" x2="191.8" y2="223.8" stroke="#f8766d" stroke-width="1"/>
<circle cx="191.8" cy="219.7" r="2.1" fill="#f8766d"/>
<line x1="191.8" y1="226" x2="191.8" y2="234.2" stroke="#00bfc4" stroke-width="1"/>
<circle cx="191.8" cy="230.0" r="2.1" fill="#00bfc4"/>
<text x="199.9" y="222.1" class="t">Semaglutide</text>
<text x="199.9" y="232.4" class="t">Tirzepatide</text>
<text x="250.7" y="166.0" class="t"><tspan font-style="italic">P</tspan> value</text>
<text x="293.4" y="166.0" text-anchor="middle" class="t">OR</text>
<text x="331.8" y="166.0" text-anchor="middle" class="t">95% CI</text>
<text x="250.9" y="178.80" class="t" style="fill:#00bfc4;stroke:none;font-size:6.5px">4.7 × 10<tspan style="font-size:3.9px" dy="-3.0">−9</tspan></text>
<text x="287.3" y="178.80" class="t" style="fill:#00bfc4;stroke:none;font-size:6.5px">0.54</text>
<text x="311.9" y="178.80" class="t" style="fill:#00bfc4;stroke:none;font-size:6.5px">[0.447, 0.663]</text>
<text x="250.9" y="185.70" class="t" style="fill:#f8766d;stroke:none;font-size:6.5px">4.5 × 10<tspan style="font-size:3.9px" dy="-3.0">−1</tspan></text>
<text x="287.3" y="185.70" class="t" style="fill:#f8766d;stroke:none;font-size:6.5px">1.04</text>
<text x="311.9" y="185.70" class="t" style="fill:#f8766d;stroke:none;font-size:6.5px">[0.936, 1.163]</text>
<text x="250.9" y="202.10" class="t" style="fill:#00bfc4;stroke:none;font-size:6.5px">2.9 × 10<tspan style="font-size:3.9px" dy="-3.0">−2</tspan></text>
<text x="287.3" y="202.10" class="t" style="fill:#00bfc4;stroke:none;font-size:6.5px">0.49</text>
<text x="311.9" y="202.10" class="t" style="fill:#00bfc4;stroke:none;font-size:6.5px">[0.263, 0.906]</text>
<text x="250.9" y="209.00" class="t" style="fill:#f8766d;stroke:none;font-size:6.5px">1.1 × 10<tspan style="font-size:3.9px" dy="-3.0">−1</tspan></text>
<text x="287.3" y="209.00" class="t" style="fill:#f8766d;stroke:none;font-size:6.5px">1.30</text>
<text x="311.9" y="209.00" class="t" style="fill:#f8766d;stroke:none;font-size:6.5px">[0.932, 1.800]</text>
<text x="250.9" y="224.80" class="t" style="fill:#00bfc4;stroke:none;font-size:6.5px">1.1 × 10<tspan style="font-size:3.9px" dy="-3.0">−10</tspan></text>
<text x="287.3" y="224.80" class="t" style="fill:#00bfc4;stroke:none;font-size:6.5px">0.54</text>
<text x="311.9" y="224.80" class="t" style="fill:#00bfc4;stroke:none;font-size:6.5px">[0.447, 0.650]</text>
<text x="250.9" y="231.70" class="t" style="fill:#f8766d;stroke:none;font-size:6.5px">2.3 × 10<tspan style="font-size:3.9px" dy="-3.0">−1</tspan></text>
<text x="287.3" y="231.70" class="t" style="fill:#f8766d;stroke:none;font-size:6.5px">1.07</text>
<text x="311.9" y="231.70" class="t" style="fill:#f8766d;stroke:none;font-size:6.5px">[0.961, 1.182]</text>
<text x="355" y="7.6" class="pl">b</text>
<line x1="379.5" y1="51.32" x2="660.5" y2="51.32" stroke="#999" stroke-width="0.7"/>
<path d="M485.9 158.5h4.4M488.1 156.3v4.4M622.6 158.6h4.4M624.8 156.4v4.4M580.8 156.6h4.4M583.0 154.4v4.4M444.2 154.6h4.4M446.4 152.4v4.4M506.3 159.4h4.4M508.5 157.2v4.4M564.4 142.2h4.4M566.6 140.0v4.4M421.7 157.4h4.4M423.9 155.2v4.4M519.6 155.4h4.4M521.8 153.2v4.4M441.0 159.5h4.4M443.2 157.3v4.4M656.1 157.1h4.4M658.3 154.9v4.4M520.4 152.1h4.4M522.6 149.9v4.4M379.1 157.1h4.4M381.3 154.9v4.4M406.8 159.3h4.4M409.0 157.1v4.4M394.2 159.3h4.4M396.4 157.1v4.4M515.4 153.8h4.4M517.6 151.6v4.4M515.5 151.1h4.4M517.7 148.9v4.4M596.7 159.7h4.4M598.9 157.5v4.4M428.3 155.1h4.4M430.5 152.9v4.4M461.8 146.6h4.4M464.0 144.4v4.4M460.4 159.1h4.4M462.6 156.9v4.4M437.8 149.8h4.4M440.0 147.6v4.4M656.6 158.5h4.4M658.8 156.3v4.4M520.6 158.2h4.4M522.8 156.0v4.4M395.6 155.9h4.4M397.8 153.7v4.4M455.5 158.9h4.4M457.7 156.7v4.4M599.4 149.3h4.4M601.6 147.1v4.4M607.6 159.0h4.4M609.8 156.8v4.4M568.6 156.4h4.4M570.8 154.2v4.4M505.3 153.0h4.4M507.5 150.8v4.4M472.2 148.7h4.4M474.4 146.5v4.4M590.1 159.5h4.4M592.3 157.3v4.4M431.4 158.5h4.4M433.6 156.3v4.4M529.8 158.8h4.4M532.0 156.6v4.4M570.3 153.1h4.4M572.5 150.9v4.4M621.2 157.5h4.4M623.4 155.3v4.4M491.9 152.3h4.4M494.1 150.1v4.4M422.1 156.9h4.4M424.3 154.7v4.4M427.0 157.9h4.4M429.2 155.7v4.4M565.5 158.4h4.4M567.7 156.2v4.4M630.4 154.6h4.4M632.6 152.4v4.4M558.4 150.9h4.4M560.6 148.7v4.4M622.2 156.8h4.4M624.4 154.6v4.4M578.0 146.5h4.4M580.2 144.3v4.4M652.3 150.4h4.4M654.5 148.2v4.4M609.9 157.2h4.4M612.1 155.0v4.4M470.9 158.4h4.4M473.1 156.2v4.4M621.6 152.4h4.4M623.8 150.2v4.4M467.6 159.2h4.4M469.8 157.0v4.4M566.7 152.9h4.4M568.9 150.7v4.4M639.4 156.9h4.4M641.6 154.7v4.4M398.1 158.3h4.4M400.3 156.1v4.4M422.4 149.7h4.4M424.6 147.5v4.4M624.8 159.1h4.4M627.0 156.9v4.4M589.1 158.8h4.4M591.3 156.6v4.4M558.5 156.9h4.4M560.7 154.7v4.4M567.1 158.8h4.4M569.3 156.6v4.4M481.4 157.2h4.4M483.6 155.0v4.4M518.5 156.9h4.4M520.7 154.7v4.4M557.0 157.8h4.4M559.2 155.6v4.4M380.2 159.2h4.4M382.4 157.0v4.4M541.7 155.4h4.4M543.9 153.2v4.4M609.9 154.9h4.4M612.1 152.7v4.4M482.7 157.0h4.4M484.9 154.8v4.4M628.9 152.4h4.4M631.1 150.2v4.4M623.2 158.9h4.4M625.4 156.7v4.4M614.6 158.9h4.4M616.8 156.7v4.4M458.5 158.0h4.4M460.7 155.8v4.4M459.6 155.7h4.4M461.8 153.5v4.4M396.2 157.4h4.4M398.4 155.2v4.4M648.8 152.5h4.4M651.0 150.3v4.4M534.8 156.9h4.4M537.0 154.7v4.4M521.5 159.4h4.4M523.7 157.2v4.4M589.6 143.8h4.4M591.8 141.6v4.4M411.3 156.8h4.4M413.5 154.6v4.4M393.7 157.8h4.4M395.9 155.6v4.4M622.4 144.4h4.4M624.6 142.2v4.4M417.3 153.8h4.4M419.5 151.6v4.4M613.7 152.8h4.4M615.9 150.6v4.4M637.4 159.1h4.4M639.6 156.9v4.4M440.4 158.0h4.4M442.6 155.8v4.4M519.4 159.6h4.4M521.6 157.4v4.4M381.4 152.1h4.4M383.6 149.9v4.4M557.0 156.5h4.4M559.2 154.3v4.4M518.6 158.6h4.4M520.8 156.4v4.4M405.5 152.3h4.4M407.7 150.1v4.4M488.2 158.4h4.4M490.4 156.2v4.4M653.6 154.2h4.4M655.8 152.0v4.4M518.1 157.8h4.4M520.3 155.6v4.4M449.2 156.5h4.4M451.4 154.3v4.4M452.6 151.1h4.4M454.8 148.9v4.4M421.2 158.0h4.4M423.4 155.8v4.4M547.5 153.5h4.4M549.7 151.3v4.4M599.3 159.3h4.4M601.5 157.1v4.4M557.2 156.3h4.4M559.4 154.1v4.4M631.2 147.4h4.4M633.4 145.2v4.4M591.3 157.3h4.4M593.5 155.1v4.4M496.0 149.9h4.4M498.2 147.7v4.4M445.3 158.4h4.4M447.5 156.2v4.4M531.9 155.5h4.4M534.1 153.3v4.4M397.1 158.5h4.4M399.3 156.3v4.4M526.6 156.3h4.4M528.8 154.1v4.4M508.4 156.4h4.4M510.6 154.2v4.4M454.6 151.3h4.4M456.8 149.1v4.4M508.8 159.0h4.4M511.0 156.8v4.4M441.1 158.9h4.4M443.3 156.7v4.4M507.4 159.4h4.4M509.6 157.2v4.4M465.6 156.8h4.4M467.8 154.6v4.4M561.1 159.4h4.4M563.3 157.2v4.4M463.0 153.8h4.4M465.2 151.6v4.4M502.8 152.9h4.4M505.0 150.7v4.4M575.3 149.1h4.4M577.5 146.9v4.4M525.6 158.0h4.4M527.8 155.8v4.4M394.5 148.8h4.4M396.7 146.6v4.4M475.6 159.1h4.4M477.8 156.9v4.4M594.9 154.1h4.4M597.1 151.9v4.4M433.0 156.0h4.4M435.2 153.8v4.4M623.8 156.7h4.4M626.0 154.5v4.4M615.0 153.1h4.4M617.2 150.9v4.4M419.8 152.5h4.4M422.0 150.3v4.4M518.5 150.9h4.4M520.7 148.7v4.4M548.7 156.9h4.4M550.9 154.7v4.4M526.7 157.1h4.4M528.9 154.9v4.4M409.8 153.3h4.4M412.0 151.1v4.4M644.0 159.5h4.4M646.2 157.3v4.4M573.1 154.5h4.4M575.3 152.3v4.4M550.2 154.3h4.4M552.4 152.1v4.4M540.5 158.9h4.4M542.7 156.7v4.4M650.2 158.7h4.4M652.4 156.5v4.4M406.7 153.7h4.4M408.9 151.5v4.4M631.5 159.6h4.4M633.7 157.4v4.4M502.9 158.1h4.4M505.1 155.9v4.4M464.6 158.4h4.4M466.8 156.2v4.4M500.9 154.3h4.4M503.1 152.1v4.4M649.7 150.0h4.4M651.9 147.8v4.4M503.6 159.5h4.4M505.8 157.3v4.4M596.9 155.6h4.4M599.1 153.4v4.4M560.2 159.7h4.4M562.4 157.5v4.4M550.1 153.3h4.4M552.3 151.1v4.4M516.1 156.2h4.4M518.3 154.0v4.4M421.8 152.1h4.4M424.0 149.9v4.4M640.1 157.9h4.4M642.3 155.7v4.4M609.4 142.7h4.4M611.6 140.5v4.4M493.1 159.1h4.4M495.3 156.9v4.4M617.2 151.3h4.4M619.4 149.1v4.4M483.9 146.1h4.4M486.1 143.9v4.4M525.7 157.1h4.4M527.9 154.9v4.4M637.4 155.9h4.4M639.6 153.7v4.4M590.6 154.4h4.4M592.8 152.2v4.4M413.1 159.3h4.4M415.3 157.1v4.4M492.4 158.7h4.4M494.6 156.5v4.4M450.2 158.5h4.4M452.4 156.3v4.4M628.8 159.1h4.4M631.0 156.9v4.4M529.2 155.8h4.4M531.4 153.6v4.4M495.2 159.5h4.4M497.4 157.3v4.4M380.4 159.6h4.4M382.6 157.4v4.4M534.6 159.6h4.4M536.8 157.4v4.4M556.8 149.6h4.4M559.0 147.4v4.4M637.6 158.8h4.4M639.8 156.6v4.4M625.7 151.6h4.4M627.9 149.4v4.4M640.6 143.3h4.4M642.8 141.1v4.4M428.1 158.0h4.4M430.3 155.8v4.4M403.1 153.9h4.4M405.3 151.7v4.4M646.8 159.5h4.4M649.0 157.3v4.4M527.0 158.4h4.4M529.2 156.2v4.4M590.2 155.4h4.4M592.4 153.2v4.4M554.0 157.8h4.4M556.2 155.6v4.4M380.3 159.7h4.4M382.5 157.5v4.4M447.1 151.8h4.4M449.3 149.6v4.4M515.4 157.5h4.4M517.6 155.3v4.4M637.2 156.7h4.4M639.4 154.5v4.4M602.2 159.5h4.4M604.4 157.3v4.4M478.9 150.9h4.4M481.1 148.7v4.4M444.1 154.9h4.4M446.3 152.7v4.4M436.3 158.5h4.4M438.5 156.3v4.4M427.0 157.1h4.4M429.2 154.9v4.4M581.3 157.6h4.4M583.5 155.4v4.4M404.0 150.9h4.4M406.2 148.7v4.4M409.0 156.1h4.4M411.2 153.9v4.4M594.6 151.8h4.4M596.8 149.6v4.4M382.9 153.7h4.4M385.1 151.5v4.4M380.6 152.1h4.4M382.8 149.9v4.4M393.3 159.1h4.4M395.5 156.9v4.4M625.7 158.6h4.4M627.9 156.4v4.4M433.1 159.2h4.4M435.3 157.0v4.4M470.4 155.8h4.4M472.6 153.6v4.4M399.0 154.3h4.4M401.2 152.1v4.4M406.0 158.2h4.4M408.2 156.0v4.4M561.6 157.0h4.4M563.8 154.8v4.4M421.7 146.5h4.4M423.9 144.3v4.4M655.9 154.8h4.4M658.1 152.6v4.4M536.2 148.0h4.4M538.4 145.8v4.4M516.6 150.5h4.4M518.8 148.3v4.4M580.8 143.9h4.4M583.0 141.7v4.4M571.0 150.1h4.4M573.2 147.9v4.4M395.9 156.4h4.4M398.1 154.2v4.4M429.5 154.8h4.4M431.7 152.6v4.4M464.4 156.6h4.4M466.6 154.4v4.4M450.2 156.6h4.4M452.4 154.4v4.4M616.7 145.6h4.4M618.9 143.4v4.4M566.9 159.2h4.4M569.1 157.0v4.4M385.6 159.8h4.4M387.8 157.6v4.4M536.4 155.8h4.4M538.6 153.6v4.4M423.2 158.2h4.4M425.4 156.0v4.4M444.5 150.2h4.4M446.7 148.0v4.4M524.3 159.4h4.4M526.5 157.2v4.4M421.1 159.6h4.4M423.3 157.4v4.4M557.0 159.5h4.4M559.2 157.3v4.4M636.0 144.6h4.4M638.2 142.4v4.4M561.5 153.7h4.4M563.7 151.5v4.4M578.8 158.9h4.4M581.0 156.7v4.4M484.6 154.5h4.4M486.8 152.3v4.4M622.5 156.9h4.4M624.7 154.7v4.4M471.1 158.9h4.4M473.3 156.7v4.4M646.2 153.1h4.4M648.4 150.9v4.4M630.0 157.2h4.4M632.2 155.0v4.4M636.2 152.7h4.4M638.4 150.5v4.4M379.7 159.4h4.4M381.9 157.2v4.4M638.7 158.0h4.4M640.9 155.8v4.4M536.9 157.5h4.4M539.1 155.3v4.4M544.8 159.6h4.4M547.0 157.4v4.4M559.3 156.0h4.4M561.5 153.8v4.4M636.2 159.3h4.4M638.4 157.1v4.4M601.6 159.1h4.4M603.8 156.9v4.4M525.5 159.6h4.4M527.7 157.4v4.4M635.6 145.7h4.4M637.8 143.5v4.4M547.8 158.4h4.4M550.0 156.2v4.4M405.3 152.9h4.4M407.5 150.7v4.4M467.9 157.9h4.4M470.1 155.7v4.4M588.8 158.9h4.4M591.0 156.7v4.4M401.4 158.0h4.4M403.6 155.8v4.4M509.3 157.3h4.4M511.5 155.1v4.4M494.5 157.6h4.4M496.7 155.4v4.4M392.0 151.3h4.4M394.2 149.1v4.4M446.2 157.4h4.4M448.4 155.2v4.4M483.3 157.0h4.4M485.5 154.8v4.4M585.1 159.4h4.4M587.3 157.2v4.4M432.5 159.2h4.4M434.7 157.0v4.4M461.6 157.6h4.4M463.8 155.4v4.4M633.4 154.7h4.4M635.6 152.5v4.4M649.0 157.7h4.4M651.2 155.5v4.4M586.0 156.2h4.4M588.2 154.0v4.4M619.9 155.7h4.4M622.1 153.5v4.4M532.9 143.3h4.4M535.1 141.1v4.4M604.6 159.4h4.4M606.8 157.2v4.4M562.8 156.5h4.4M565.0 154.3v4.4M438.0 154.1h4.4M440.2 151.9v4.4M637.0 156.4h4.4M639.2 154.2v4.4M521.2 146.7h4.4M523.4 144.5v4.4M581.6 153.2h4.4M583.8 151.0v4.4M578.4 153.6h4.4M580.6 151.4v4.4M536.5 152.7h4.4M538.7 150.5v4.4M389.7 153.5h4.4M391.9 151.3v4.4M633.0 154.8h4.4M635.2 152.6v4.4M524.8 156.5h4.4M527.0 154.3v4.4M489.6 149.8h4.4M491.8 147.6v4.4M614.2 154.2h4.4M616.4 152.0v4.4M481.6 156.7h4.4M483.8 154.5v4.4M631.8 159.8h4.4M634.0 157.6v4.4M628.0 155.8h4.4M630.2 153.6v4.4M504.0 158.5h4.4M506.2 156.3v4.4M544.7 157.1h4.4M546.9 154.9v4.4M575.1 159.3h4.4M577.3 157.1v4.4M497.7 152.2h4.4M499.9 150.0v4.4M644.2 159.5h4.4M646.4 157.3v4.4M524.5 159.7h4.4M526.7 157.5v4.4M384.2 158.1h4.4M386.4 155.9v4.4M527.2 156.0h4.4M529.4 153.8v4.4M638.8 156.3h4.4M641.0 154.1v4.4M586.5 154.2h4.4M588.7 152.0v4.4M536.9 159.6h4.4M539.1 157.4v4.4M404.8 153.5h4.4M407.0 151.3v4.4M630.0 151.4h4.4M632.2 149.2v4.4M640.8 149.1h4.4M643.0 146.9v4.4M648.2 159.5h4.4M650.4 157.3v4.4M423.6 156.3h4.4M425.8 154.1v4.4M628.7 153.1h4.4M630.9 150.9v4.4M608.1 159.2h4.4M610.3 157.0v4.4M589.9 157.9h4.4M592.1 155.7v4.4M472.4 159.5h4.4M474.6 157.3v4.4M454.7 156.7h4.4M456.9 154.5v4.4M655.1 156.8h4.4M657.3 154.6v4.4M380.0 157.3h4.4M382.2 155.1v4.4M558.5 159.7h4.4M560.7 157.5v4.4M481.6 158.1h4.4M483.8 155.9v4.4M613.2 157.3h4.4M615.4 155.1v4.4M595.4 159.8h4.4M597.6 157.6v4.4M516.3 159.7h4.4M518.5 157.5v4.4M618.9 158.6h4.4M621.1 156.4v4.4M627.2 154.3h4.4M629.4 152.1v4.4M477.2 152.5h4.4M479.4 150.3v4.4M465.1 159.0h4.4M467.3 156.8v4.4M567.5 159.5h4.4M569.7 157.3v4.4M488.0 157.9h4.4M490.2 155.7v4.4M492.6 158.9h4.4M494.8 156.7v4.4M655.8 157.7h4.4M658.0 155.5v4.4M536.7 158.0h4.4M538.9 155.8v4.4M558.6 158.6h4.4M560.8 156.4v4.4M381.7 141.1h4.4M383.9 138.9v4.4M409.3 156.7h4.4M411.5 154.5v4.4M598.9 155.4h4.4M601.1 153.2v4.4M502.7 158.6h4.4M504.9 156.4v4.4M589.4 158.2h4.4M591.6 156.0v4.4M392.8 154.5h4.4M395.0 152.3v4.4M493.6 155.9h4.4M495.8 153.7v4.4M492.1 155.6h4.4M494.3 153.4v4.4M598.9 154.7h4.4M601.1 152.5v4.4M387.2 156.5h4.4M389.4 154.3v4.4M646.1 159.1h4.4M648.3 156.9v4.4M530.4 158.6h4.4M532.6 156.4v4.4M534.0 153.9h4.4M536.2 151.7v4.4M649.6 159.8h4.4M651.8 157.6v4.4M500.3 153.4h4.4M502.5 151.2v4.4M529.7 158.9h4.4M531.9 156.7v4.4M613.4 158.9h4.4M615.6 156.7v4.4M607.8 155.1h4.4M610.0 152.9v4.4M456.2 159.4h4.4M458.4 157.2v4.4M578.6 148.4h4.4M580.8 146.2v4.4M581.0 156.1h4.4M583.2 153.9v4.4M490.1 155.0h4.4M492.3 152.8v4.4M626.5 159.1h4.4M628.7 156.9v4.4M561.6 156.5h4.4M563.8 154.3v4.4M439.4 141.9h4.4M441.6 139.7v4.4M539.1 154.3h4.4M541.3 152.1v4.4M475.8 158.1h4.4M478.0 155.9v4.4M418.1 157.7h4.4M420.3 155.5v4.4M625.3 156.2h4.4M627.5 154.0v4.4M656.2 157.7h4.4M658.4 155.5v4.4M432.2 158.6h4.4M434.4 156.4v4.4M631.2 157.2h4.4M633.4 155.0v4.4M514.8 156.4h4.4M517.0 154.2v4.4M408.1 148.6h4.4M410.3 146.4v4.4M452.5 148.1h4.4M454.7 145.9v4.4M439.8 157.6h4.4M442.0 155.4v4.4M568.9 155.1h4.4M571.1 152.9v4.4M455.7 154.4h4.4M457.9 152.2v4.4M576.6 152.1h4.4M578.8 149.9v4.4M389.5 158.0h4.4M391.7 155.8v4.4M410.9 150.4h4.4M413.1 148.2v4.4M638.1 155.2h4.4M640.3 153.0v4.4M474.8 157.5h4.4M477.0 155.3v4.4M447.7 157.6h4.4M449.9 155.4v4.4M503.3 153.2h4.4M505.5 151.0v4.4M578.4 158.1h4.4M580.6 155.9v4.4M450.9 157.6h4.4M453.1 155.4v4.4M525.8 152.1h4.4M528.0 149.9v4.4M603.1 145.7h4.4M605.3 143.5v4.4M472.9 158.3h4.4M475.1 156.1v4.4M544.6 156.1h4.4M546.8 153.9v4.4M459.4 146.4h4.4M461.6 144.2v4.4M535.4 159.6h4.4M537.6 157.4v4.4M524.1 151.3h4.4M526.3 149.1v4.4M558.6 148.1h4.4M560.8 145.9v4.4M466.5 156.9h4.4M468.7 154.7v4.4M451.0 158.3h4.4M453.2 156.1v4.4M606.2 159.1h4.4M608.4 156.9v4.4M541.0 157.0h4.4M543.2 154.8v4.4M598.0 153.0h4.4M600.2 150.8v4.4M450.7 157.6h4.4M452.9 155.4v4.4M455.5 153.6h4.4M457.7 151.4v4.4M600.2 148.2h4.4M602.4 146.0v4.4M555.5 156.4h4.4M557.7 154.2v4.4M433.0 158.9h4.4M435.2 156.7v4.4M457.0 149.8h4.4M459.2 147.6v4.4M459.9 159.5h4.4M462.1 157.3v4.4M518.7 153.4h4.4M520.9 151.2v4.4M456.2 159.8h4.4M458.4 157.6v4.4M418.6 159.8h4.4M420.8 157.6v4.4M631.5 155.9h4.4M633.7 153.7v4.4M450.4 155.3h4.4M452.6 153.1v4.4M423.1 152.5h4.4M425.3 150.3v4.4M551.0 151.8h4.4M553.2 149.6v4.4M502.3 159.7h4.4M504.5 157.5v4.4M602.9 158.5h4.4M605.1 156.3v4.4M530.5 159.3h4.4M532.7 157.1v4.4M553.4 146.4h4.4M555.6 144.2v4.4M496.2 153.5h4.4M498.4 151.3v4.4M505.9 159.4h4.4M508.1 157.2v4.4M441.0 154.8h4.4M443.2 152.6v4.4M389.4 159.2h4.4M391.6 157.0v4.4M399.8 158.4h4.4M402.0 156.2v4.4M621.5 155.7h4.4M623.7 153.5v4.4M532.9 158.1h4.4M535.1 155.9v4.4M597.5 157.2h4.4M599.7 155.0v4.4M646.8 150.5h4.4M649.0 148.3v4.4M637.6 156.1h4.4M639.8 153.9v4.4M465.8 154.1h4.4M468.0 151.9v4.4M609.1 159.5h4.4M611.3 157.3v4.4M481.2 157.6h4.4M483.4 155.4v4.4M571.0 154.4h4.4M573.2 152.2v4.4M433.4 159.2h4.4M435.6 157.0v4.4M555.0 159.4h4.4M557.2 157.2v4.4M623.4 157.5h4.4M625.6 155.3v4.4M536.0 158.5h4.4M538.2 156.3v4.4M543.9 153.1h4.4M546.1 150.9v4.4M387.2 158.0h4.4M389.4 155.8v4.4M428.5 148.2h4.4M430.7 146.0v4.4M400.0 159.3h4.4M402.2 157.1v4.4M645.8 159.1h4.4M648.0 156.9v4.4M491.0 159.0h4.4M493.2 156.8v4.4M428.4 153.8h4.4M430.6 151.6v4.4M532.6 154.8h4.4M534.8 152.6v4.4M407.0 159.0h4.4M409.2 156.8v4.4M606.4 155.7h4.4M608.6 153.5v4.4M620.9 157.4h4.4M623.1 155.2v4.4M640.2 158.4h4.4M642.4 156.2v4.4M528.3 151.0h4.4M530.5 148.8v4.4M420.3 158.8h4.4M422.5 156.6v4.4M544.0 153.2h4.4M546.2 151.0v4.4M642.9 159.8h4.4M645.1 157.6v4.4M550.4 156.4h4.4M552.6 154.2v4.4M486.1 158.8h4.4M488.3 156.6v4.4M495.2 159.3h4.4M497.4 157.1v4.4M589.1 159.8h4.4M591.3 157.6v4.4M587.6 157.7h4.4M589.8 155.5v4.4M655.1 154.5h4.4M657.3 152.3v4.4M532.2 155.4h4.4M534.4 153.2v4.4M425.9 149.1h4.4M428.1 146.9v4.4M603.8 159.4h4.4M606.0 157.2v4.4M624.1 159.2h4.4M626.3 157.0v4.4M412.3 154.7h4.4M414.5 152.5v4.4M407.2 159.4h4.4M409.4 157.2v4.4M392.7 157.8h4.4M394.9 155.6v4.4M627.8 158.4h4.4M630.0 156.2v4.4M616.8 157.7h4.4M619.0 155.5v4.4M542.5 156.2h4.4M544.7 154.0v4.4M399.7 155.8h4.4M401.9 153.6v4.4M423.3 157.6h4.4M425.5 155.4v4.4M444.8 159.8h4.4M447.0 157.6v4.4M574.9 158.1h4.4M577.1 155.9v4.4M519.9 154.0h4.4M522.1 151.8v4.4M593.4 159.4h4.4M595.6 157.2v4.4M425.6 154.7h4.4M427.8 152.5v4.4M580.3 158.9h4.4M582.5 156.7v4.4M392.0 159.0h4.4M394.2 156.8v4.4M440.6 159.8h4.4M442.8 157.6v4.4M428.0 157.3h4.4M430.2 155.1v4.4M577.1 141.6h4.4M579.3 139.4v4.4M614.9 154.7h4.4M617.1 152.5v4.4M534.1 159.2h4.4M536.3 157.0v4.4M476.6 153.3h4.4M478.8 151.1v4.4M636.8 156.9h4.4M639.0 154.7v4.4M561.5 156.3h4.4M563.7 154.1v4.4M612.0 154.6h4.4M614.2 152.4v4.4M414.2 159.5h4.4M416.4 157.3v4.4M448.4 149.2h4.4M450.6 147.0v4.4M499.0 156.4h4.4M501.2 154.2v4.4M399.3 154.3h4.4M401.5 152.1v4.4M414.8 156.8h4.4M417.0 154.6v4.4M648.4 158.9h4.4M650.6 156.7v4.4M646.9 158.9h4.4M649.1 156.7v4.4M646.3 151.4h4.4M648.5 149.2v4.4M544.8 147.1h4.4M547.0 144.9v4.4M432.1 156.4h4.4M434.3 154.2v4.4M567.6 158.8h4.4M569.8 156.6v4.4M388.5 154.9h4.4M390.7 152.7v4.4M491.4 158.7h4.4M493.6 156.5v4.4M496.1 158.7h4.4M498.3 156.5v4.4M608.8 146.7h4.4M611.0 144.5v4.4M464.5 157.8h4.4M466.7 155.6v4.4M468.7 145.8h4.4M470.9 143.6v4.4M400.1 159.4h4.4M402.3 157.2v4.4M419.7 157.1h4.4M421.9 154.9v4.4M531.0 155.7h4.4M533.2 153.5v4.4M645.5 158.6h4.4M647.7 156.4v4.4M464.0 154.2h4.4M466.2 152.0v4.4M652.3 147.9h4.4M654.5 145.7v4.4M518.6 153.7h4.4M520.8 151.5v4.4M452.4 159.1h4.4M454.6 156.9v4.4M532.7 154.8h4.4M534.9 152.6v4.4M442.5 154.0h4.4M444.7 151.8v4.4M448.0 159.0h4.4M450.2 156.8v4.4M516.5 154.1h4.4M518.7 151.9v4.4M634.9 159.3h4.4M637.1 157.1v4.4M565.0 159.8h4.4M567.2 157.6v4.4M516.2 153.3h4.4M518.4 151.1v4.4M386.7 156.0h4.4M388.9 153.8v4.4M442.3 157.4h4.4M444.5 155.2v4.4M462.7 159.0h4.4M464.9 156.8v4.4M575.6 157.7h4.4M577.8 155.5v4.4M630.6 156.3h4.4M632.8 154.1v4.4M617.8 154.4h4.4M620.0 152.2v4.4M510.6 153.3h4.4M512.8 151.1v4.4M626.2 158.0h4.4M628.4 155.8v4.4M455.5 157.5h4.4M457.7 155.3v4.4M407.0 156.0h4.4M409.2 153.8v4.4M432.1 158.3h4.4M434.3 156.1v4.4M430.7 159.5h4.4M432.9 157.3v4.4M557.0 156.3h4.4M559.2 154.1v4.4M539.4 147.4h4.4M541.6 145.2v4.4M560.0 159.5h4.4M562.2 157.3v4.4M633.6 158.7h4.4M635.8 156.5v4.4M601.5 156.1h4.4M603.7 153.9v4.4M389.0 156.8h4.4M391.2 154.6v4.4M527.7 159.4h4.4M529.9 157.2v4.4M518.6 159.8h4.4M520.8 157.6v4.4M452.2 155.9h4.4M454.4 153.7v4.4M425.4 159.7h4.4M427.6 157.5v4.4M612.8 159.3h4.4M615.0 157.1v4.4M399.3 156.8h4.4M401.5 154.6v4.4M559.0 158.6h4.4M561.2 156.4v4.4M618.6 145.7h4.4M620.8 143.5v4.4M410.2 155.2h4.4M412.4 153.0v4.4M647.0 146.3h4.4M649.2 144.1v4.4M461.6 148.8h4.4M463.8 146.6v4.4M408.1 158.4h4.4M410.3 156.2v4.4M511.1 159.7h4.4M513.3 157.5v4.4M431.0 159.6h4.4M433.2 157.4v4.4M524.0 159.5h4.4M526.2 157.3v4.4M642.6 156.2h4.4M644.8 154.0v4.4M406.4 159.4h4.4M408.6 157.2v4.4M505.1 158.6h4.4M507.3 156.4v4.4M644.7 158.3h4.4M646.9 156.1v4.4M562.9 159.6h4.4M565.1 157.4v4.4M605.5 156.6h4.4M607.7 154.4v4.4M519.6 158.0h4.4M521.8 155.8v4.4M402.8 159.0h4.4M405.0 156.8v4.4M522.0 158.3h4.4M524.2 156.1v4.4M384.6 142.6h4.4M386.8 140.4v4.4M494.0 153.8h4.4M496.2 151.6v4.4M495.1 156.2h4.4M497.3 154.0v4.4M378.8 159.8h4.4M381.0 157.6v4.4M610.5 156.2h4.4M612.7 154.0v4.4M523.6 154.4h4.4M525.8 152.2v4.4M410.5 155.3h4.4M412.7 153.1v4.4M429.1 154.3h4.4M431.3 152.1v4.4M393.4 156.2h4.4M395.6 154.0v4.4M500.0 157.7h4.4M502.2 155.5v4.4M477.8 159.5h4.4M480.0 157.3v4.4M531.7 159.6h4.4M533.9 157.4v4.4M405.2 159.7h4.4M407.4 157.5v4.4M565.9 156.7h4.4M568.1 154.5v4.4M517.5 157.4h4.4M519.7 155.2v4.4M598.9 158.3h4.4M601.1 156.1v4.4M544.6 159.6h4.4M546.8 157.4v4.4M545.0 152.7h4.4M547.2 150.5v4.4M511.6 144.7h4.4M513.8 142.5v4.4M577.5 159.1h4.4M579.7 156.9v4.4M618.9 155.0h4.4M621.1 152.8v4.4M469.4 158.9h4.4M471.6 156.7v4.4M578.7 159.0h4.4M580.9 156.8v4.4M422.7 157.9h4.4M424.9 155.7v4.4M636.1 158.5h4.4M638.3 156.3v4.4M448.7 157.6h4.4M450.9 155.4v4.4M391.5 157.4h4.4M393.7 155.2v4.4M476.7 157.0h4.4M478.9 154.8v4.4M604.3 157.7h4.4M606.5 155.5v4.4M479.1 157.4h4.4M481.3 155.2v4.4M495.8 158.7h4.4M498.0 156.5v4.4M622.2 150.6h4.4M624.4 148.4v4.4M630.8 153.4h4.4M633.0 151.2v4.4M434.9 158.3h4.4M437.1 156.1v4.4M498.6 155.8h4.4M500.8 153.6v4.4M499.6 152.8h4.4M501.8 150.6v4.4M464.0 159.7h4.4M466.2 157.5v4.4M467.0 158.7h4.4M469.2 156.5v4.4M545.5 154.4h4.4M547.7 152.2v4.4M447.8 156.7h4.4M450.0 154.5v4.4M571.6 158.4h4.4M573.8 156.2v4.4M566.6 159.2h4.4M568.8 157.0v4.4M544.7 158.4h4.4M546.9 156.2v4.4M568.9 157.0h4.4M571.1 154.8v4.4M430.2 155.0h4.4M432.4 152.8v4.4M478.2 159.6h4.4M480.4 157.4v4.4M534.3 156.8h4.4M536.5 154.6v4.4M509.2 154.0h4.4M511.4 151.8v4.4M465.1 155.9h4.4M467.3 153.7v4.4M655.7 156.1h4.4M657.9 153.9v4.4M415.8 153.1h4.4M418.0 150.9v4.4M419.4 158.6h4.4M421.6 156.4v4.4M579.9 159.2h4.4M582.1 157.0v4.4M455.2 151.8h4.4M457.4 149.6v4.4M486.5 158.8h4.4M488.7 156.6v4.4M497.1 158.3h4.4M499.3 156.1v4.4M535.9 153.4h4.4M538.1 151.2v4.4M487.9 155.8h4.4M490.1 153.6v4.4M622.1 158.4h4.4M624.3 156.2v4.4M655.0 159.6h4.4M657.2 157.4v4.4M495.1 158.1h4.4M497.3 155.9v4.4M509.9 155.0h4.4M512.1 152.8v4.4M481.7 155.7h4.4M483.9 153.5v4.4M504.5 156.8h4.4M506.7 154.6v4.4M592.2 158.8h4.4M594.4 156.6v4.4M387.3 150.9h4.4M389.5 148.7v4.4M635.3 158.6h4.4M637.5 156.4v4.4M401.6 154.1h4.4M403.8 151.9v4.4M529.1 158.7h4.4M531.3 156.5v4.4M511.4 148.9h4.4M513.6 146.7v4.4M489.3 159.4h4.4M491.5 157.2v4.4M603.2 156.6h4.4M605.4 154.4v4.4M459.8 155.7h4.4M462.0 153.5v4.4M605.8 158.7h4.4M608.0 156.5v4.4M530.9 153.4h4.4M533.1 151.2v4.4M563.9 156.8h4.4M566.1 154.6v4.4M394.1 149.1h4.4M396.3 146.9v4.4M435.0 148.8h4.4M437.2 146.6v4.4M404.5 158.4h4.4M406.7 156.2v4.4M399.6 157.9h4.4M401.8 155.7v4.4M615.3 154.4h4.4M617.5 152.2v4.4M505.8 157.0h4.4M508.0 154.8v4.4M452.4 155.9h4.4M454.6 153.7v4.4M434.5 159.2h4.4M436.7 157.0v4.4M430.8 157.2h4.4M433.0 155.0v4.4M539.5 159.4h4.4M541.7 157.2v4.4M440.1 158.3h4.4M442.3 156.1v4.4M549.6 159.2h4.4M551.8 157.0v4.4M652.8 152.5h4.4M655.0 150.3v4.4M435.3 158.6h4.4M437.5 156.4v4.4M450.5 150.7h4.4M452.7 148.5v4.4M425.5 158.5h4.4M427.7 156.3v4.4M495.7 154.2h4.4M497.9 152.0v4.4M429.5 159.4h4.4M431.7 157.2v4.4M502.2 153.2h4.4M504.4 151.0v4.4M450.4 157.0h4.4M452.6 154.8v4.4M454.9 158.6h4.4M457.1 156.4v4.4M486.9 158.4h4.4M489.1 156.2v4.4M610.4 151.2h4.4M612.6 149.0v4.4M485.0 149.4h4.4M487.2 147.2v4.4M653.1 155.2h4.4M655.3 153.0v4.4M412.2 159.7h4.4M414.4 157.5v4.4M592.6 157.1h4.4M594.8 154.9v4.4M460.5 158.1h4.4M462.7 155.9v4.4M573.2 155.5h4.4M575.4 153.3v4.4M445.1 158.8h4.4M447.3 156.6v4.4M565.0 147.7h4.4M567.2 145.5v4.4M481.8 157.7h4.4M484.0 155.5v4.4M527.7 155.5h4.4M529.9 153.3v4.4M500.4 159.8h4.4M502.6 157.6v4.4M478.2 153.5h4.4M480.4 151.3v4.4M428.9 157.2h4.4M431.1 155.0v4.4M574.0 158.9h4.4M576.2 156.7v4.4M413.4 153.3h4.4M415.6 151.1v4.4M615.6 159.1h4.4M617.8 156.9v4.4M470.0 157.4h4.4M472.2 155.2v4.4M587.3 159.8h4.4M589.5 157.6v4.4M453.0 158.0h4.4M455.2 155.8v4.4M567.7 159.3h4.4M569.9 157.1v4.4M622.4 156.6h4.4M624.6 154.4v4.4M384.5 155.8h4.4M386.7 153.6v4.4M652.7 158.5h4.4M654.9 156.3v4.4M411.3 157.1h4.4M413.5 154.9v4.4M601.9 157.9h4.4M604.1 155.7v4.4M512.8 140.8h4.4M515.0 138.6v4.4M557.4 149.1h4.4M559.6 146.9v4.4M411.2 157.8h4.4M413.4 155.6v4.4M451.4 157.9h4.4M453.6 155.7v4.4M452.3 154.7h4.4M454.5 152.5v4.4M451.0 158.4h4.4M453.2 156.2v4.4M534.6 158.7h4.4M536.8 156.5v4.4M547.3 156.3h4.4M549.5 154.1v4.4M435.3 151.8h4.4M437.5 149.6v4.4M434.2 154.5h4.4M436.4 152.3v4.4M638.2 157.3h4.4M640.4 155.1v4.4M508.1 157.7h4.4M510.3 155.5v4.4M424.1 156.4h4.4M426.3 154.2v4.4M528.1 158.5h4.4M530.3 156.3v4.4M540.1 158.2h4.4M542.3 156.0v4.4M405.4 154.4h4.4M407.6 152.2v4.4M434.8 159.5h4.4M437.0 157.3v4.4M608.6 157.0h4.4M610.8 154.8v4.4M424.7 153.9h4.4M426.9 151.7v4.4M484.7 153.2h4.4M486.9 151.0v4.4M593.3 148.7h4.4M595.5 146.5v4.4M655.8 159.8h4.4M658.0 157.6v4.4M444.8 159.2h4.4M447.0 157.0v4.4M634.2 157.8h4.4M636.4 155.6v4.4M400.1 157.0h4.4M402.3 154.8v4.4M400.8 151.1h4.4M403.0 148.9v4.4M396.9 158.8h4.4M399.1 156.6v4.4M537.1 157.1h4.4M539.3 154.9v4.4M414.6 158.7h4.4M416.8 156.5v4.4M471.5 156.9h4.4M473.7 154.7v4.4M644.7 152.5h4.4M646.9 150.3v4.4M597.5 154.9h4.4M599.7 152.7v4.4M447.4 159.3h4.4M449.6 157.1v4.4M393.4 151.3h4.4M395.6 149.1v4.4M424.6 151.9h4.4M426.8 149.7v4.4M512.4 159.7h4.4M514.6 157.5v4.4M622.7 154.2h4.4M624.9 152.0v4.4M420.4 159.3h4.4M422.6 157.1v4.4M486.2 159.2h4.4M488.4 157.0v4.4M523.8 159.7h4.4M526.0 157.5v4.4M557.1 159.5h4.4M559.3 157.3v4.4M476.6 155.4h4.4M478.8 153.2v4.4M647.5 149.7h4.4M649.7 147.5v4.4M522.3 156.7h4.4M524.5 154.5v4.4M492.0 158.4h4.4M494.2 156.2v4.4M655.8 149.6h4.4M658.0 147.4v4.4M472.4 151.6h4.4M474.6 149.4v4.4M435.3 157.1h4.4M437.5 154.9v4.4M632.2 155.0h4.4M634.4 152.8v4.4M607.8 146.5h4.4M610.0 144.3v4.4M403.4 153.7h4.4M405.6 151.5v4.4M455.8 158.7h4.4M458.0 156.5v4.4M518.6 153.7h4.4M520.8 151.5v4.4M451.8 159.2h4.4M454.0 157.0v4.4M525.6 156.8h4.4M527.8 154.6v4.4M513.3 154.3h4.4M515.5 152.1v4.4M472.9 156.3h4.4M475.1 154.1v4.4M601.3 150.2h4.4M603.5 148.0v4.4M503.3 157.1h4.4M505.5 154.9v4.4M614.3 157.4h4.4M616.5 155.2v4.4M431.9 156.1h4.4M434.1 153.9v4.4M536.3 153.2h4.4M538.5 151.0v4.4M481.7 148.8h4.4M483.9 146.6v4.4M603.5 159.0h4.4M605.7 156.8v4.4M480.9 157.0h4.4M483.1 154.8v4.4M603.5 157.0h4.4M605.7 154.8v4.4M449.8 157.5h4.4M452.0 155.3v4.4M393.4 156.0h4.4M395.6 153.8v4.4M548.1 157.2h4.4M550.3 155.0v4.4M564.0 150.4h4.4M566.2 148.2v4.4M399.3 157.9h4.4M401.5 155.7v4.4M629.8 157.9h4.4M632.0 155.7v4.4M389.9 156.7h4.4M392.1 154.5v4.4M626.0 155.2h4.4M628.2 153.0v4.4M408.5 158.8h4.4M410.7 156.6v4.4M541.7 150.9h4.4M543.9 148.7v4.4M436.4 141.5h4.4M438.6 139.3v4.4M419.7 157.5h4.4M421.9 155.3v4.4M640.7 154.9h4.4M642.9 152.7v4.4M422.0 158.0h4.4M424.2 155.8v4.4M631.4 154.4h4.4M633.6 152.2v4.4M493.4 159.7h4.4M495.6 157.5v4.4M448.8 156.3h4.4M451.0 154.1v4.4M619.3 158.4h4.4M621.5 156.2v4.4M504.3 155.6h4.4M506.5 153.4v4.4M418.0 150.0h4.4M420.2 147.8v4.4M396.8 157.3h4.4M399.0 155.1v4.4M487.8 157.0h4.4M490.0 154.8v4.4M510.0 159.0h4.4M512.2 156.8v4.4M493.4 159.0h4.4M495.6 156.8v4.4M624.1 153.7h4.4M626.3 151.5v4.4M497.9 158.6h4.4M500.1 156.4v4.4M384.3 159.3h4.4M386.5 157.1v4.4M595.3 154.2h4.4M597.5 152.0v4.4M459.4 142.9h4.4M461.6 140.7v4.4M524.7 153.9h4.4M526.9 151.7v4.4M473.0 157.8h4.4M475.2 155.6v4.4M586.2 159.0h4.4M588.4 156.8v4.4M407.4 158.8h4.4M409.6 156.6v4.4M384.7 155.9h4.4M386.9 153.7v4.4M483.7 155.6h4.4M485.9 153.4v4.4M645.4 158.9h4.4M647.6 156.7v4.4M614.7 152.9h4.4M616.9 150.7v4.4M605.5 148.8h4.4M607.7 146.6v4.4M622.6 158.8h4.4M624.8 156.6v4.4M380.6 158.1h4.4M382.8 155.9v4.4M458.7 150.2h4.4M460.9 148.0v4.4M482.2 158.9h4.4M484.4 156.7v4.4M627.2 158.2h4.4M629.4 156.0v4.4M563.0 158.1h4.4M565.2 155.9v4.4M504.6 154.2h4.4M506.8 152.0v4.4M445.3 158.1h4.4M447.5 155.9v4.4M468.8 157.9h4.4M471.0 155.7v4.4M481.3 157.0h4.4M483.5 154.8v4.4M397.5 156.6h4.4M399.7 154.4v4.4M633.0 158.9h4.4M635.2 156.7v4.4M575.6 152.2h4.4M577.8 150.0v4.4M383.5 157.6h4.4M385.7 155.4v4.4M383.9 142.3h4.4M386.1 140.1v4.4M631.5 157.0h4.4M633.7 154.8v4.4M400.4 156.3h4.4M402.6 154.1v4.4M610.5 158.7h4.4M612.7 156.5v4.4M520.4 156.7h4.4M522.6 154.5v4.4M474.2 152.8h4.4M476.4 150.6v4.4M451.9 152.8h4.4M454.1 150.6v4.4M606.7 153.7h4.4M608.9 151.5v4.4M619.0 148.8h4.4M621.2 146.6v4.4M612.8 157.0h4.4M615.0 154.8v4.4M501.3 158.1h4.4M503.5 155.9v4.4M409.7 156.9h4.4M411.9 154.7v4.4M420.0 159.5h4.4M422.2 157.3v4.4M600.4 158.9h4.4M602.6 156.7v4.4M549.2 158.9h4.4M551.4 156.7v4.4M643.3 157.7h4.4M645.5 155.5v4.4M457.4 156.7h4.4M459.6 154.5v4.4M409.1 156.6h4.4M411.3 154.4v4.4M528.9 157.2h4.4M531.1 155.0v4.4M385.7 159.8h4.4M387.9 157.6v4.4M472.0 154.0h4.4M474.2 151.8v4.4M578.0 158.1h4.4M580.2 155.9v4.4M433.6 156.2h4.4M435.8 154.0v4.4M534.5 143.4h4.4M536.7 141.2v4.4M611.1 153.6h4.4M613.3 151.4v4.4M460.2 152.0h4.4M462.4 149.8v4.4M621.9 151.4h4.4M624.1 149.2v4.4M617.3 156.3h4.4M619.5 154.1v4.4M653.3 155.4h4.4M655.5 153.2v4.4M652.3 157.3h4.4M654.5 155.1v4.4M598.9 158.6h4.4M601.1 156.4v4.4M620.1 159.7h4.4M622.3 157.5v4.4M431.7 159.2h4.4M433.9 157.0v4.4M648.5 157.2h4.4M650.7 155.0v4.4M464.7 159.3h4.4M466.9 157.1v4.4M655.5 149.7h4.4M657.7 147.5v4.4M585.9 157.9h4.4M588.1 155.7v4.4M646.2 154.8h4.4M648.4 152.6v4.4M406.9 158.4h4.4M409.1 156.2v4.4M579.1 155.8h4.4M581.3 153.6v4.4M484.4 158.9h4.4M486.6 156.7v4.4M438.3 158.0h4.4M440.5 155.8v4.4M617.8 158.4h4.4M620.0 156.2v4.4M410.7 159.1h4.4M412.9 156.9v4.4M517.3 154.8h4.4M519.5 152.6v4.4M466.7 157.7h4.4M468.9 155.5v4.4M531.3 156.8h4.4M533.5 154.6v4.4M615.7 157.9h4.4M617.9 155.7v4.4M525.6 158.1h4.4M527.8 155.9v4.4M624.6 158.1h4.4M626.8 155.9v4.4M425.2 156.6h4.4M427.4 154.4v4.4M397.3 154.6h4.4M399.5 152.4v4.4M459.9 157.1h4.4M462.1 154.9v4.4M601.1 156.4h4.4M603.3 154.2v4.4M465.7 156.1h4.4M467.9 153.9v4.4M500.1 157.8h4.4M502.3 155.6v4.4M607.3 154.9h4.4M609.5 152.7v4.4M423.8 159.8h4.4M426.0 157.6v4.4M647.0 157.8h4.4M649.2 155.6v4.4M547.3 158.9h4.4M549.5 156.7v4.4M580.0 149.2h4.4M582.2 147.0v4.4M429.9 157.9h4.4M432.1 155.7v4.4M530.2 153.9h4.4M532.4 151.7v4.4M610.3 156.7h4.4M612.5 154.5v4.4M603.7 148.0h4.4M605.9 145.8v4.4M546.2 155.5h4.4M548.4 153.3v4.4M604.1 159.7h4.4M606.3 157.5v4.4M590.8 159.3h4.4M593.0 157.1v4.4M529.3 159.0h4.4M531.5 156.8v4.4M581.2 158.5h4.4M583.4 156.3v4.4M571.8 159.6h4.4M574.0 157.4v4.4M398.9 156.9h4.4M401.1 154.7v4.4M427.9 159.0h4.4M430.1 156.8v4.4M593.6 158.5h4.4M595.8 156.3v4.4M427.6 159.1h4.4M429.8 156.9v4.4M583.2 159.6h4.4M585.4 157.4v4.4M553.5 157.6h4.4M555.7 155.4v4.4M512.1 155.2h4.4M514.3 153.0v4.4M568.4 157.0h4.4M570.6 154.8v4.4M538.4 158.4h4.4M540.6 156.2v4.4M655.9 159.4h4.4M658.1 157.2v4.4M406.4 152.1h4.4M408.6 149.9v4.4M424.2 158.7h4.4M426.4 156.5v4.4M511.2 159.2h4.4M513.4 157.0v4.4M427.2 159.0h4.4M429.4 156.8v4.4M584.5 151.1h4.4M586.7 148.9v4.4M409.1 152.9h4.4M411.3 150.7v4.4M453.5 157.9h4.4M455.7 155.7v4.4M521.7 151.0h4.4M523.9 148.8v4.4M400.2 154.6h4.4M402.4 152.4v4.4M495.7 157.7h4.4M497.9 155.5v4.4M397.2 157.9h4.4M399.4 155.7v4.4M426.9 153.7h4.4M429.1 151.5v4.4M540.5 159.1h4.4M542.7 156.9v4.4M635.8 159.6h4.4M638.0 157.4v4.4M412.8 152.5h4.4M415.0 150.3v4.4M497.9 156.9h4.4M500.1 154.7v4.4M521.3 153.9h4.4M523.5 151.7v4.4M564.0 159.5h4.4M566.2 157.3v4.4M552.4 156.4h4.4M554.6 154.2v4.4M612.2 155.0h4.4M614.4 152.8v4.4M538.6 159.7h4.4M540.8 157.5v4.4M482.2 158.6h4.4M484.4 156.4v4.4M415.8 158.5h4.4M418.0 156.3v4.4M436.9 157.6h4.4M439.1 155.4v4.4M576.8 159.1h4.4M579.0 156.9v4.4M552.0 158.5h4.4M554.2 156.3v4.4M392.4 155.2h4.4M394.6 153.0v4.4M455.6 158.4h4.4M457.8 156.2v4.4M582.9 159.5h4.4M585.1 157.3v4.4M380.5 146.8h4.4M382.7 144.6v4.4M487.5 159.2h4.4M489.7 157.0v4.4M597.6 157.3h4.4M599.8 155.1v4.4M503.6 151.3h4.4M505.8 149.1v4.4M518.0 159.1h4.4M520.2 156.9v4.4M534.4 157.0h4.4M536.6 154.8v4.4M475.8 157.4h4.4M478.0 155.2v4.4M647.7 158.5h4.4M649.9 156.3v4.4M623.7 158.0h4.4M625.9 155.8v4.4M403.2 158.3h4.4M405.4 156.1v4.4M396.6 157.9h4.4M398.8 155.7v4.4M554.2 156.9h4.4M556.4 154.7v4.4M421.8 154.6h4.4M424.0 152.4v4.4M567.3 159.7h4.4M569.5 157.5v4.4M407.7 158.7h4.4M409.9 156.5v4.4M435.4 157.5h4.4M437.6 155.3v4.4M510.5 158.3h4.4M512.7 156.1v4.4M551.1 158.8h4.4M553.3 156.6v4.4M618.7 147.3h4.4M620.9 145.1v4.4M600.1 156.2h4.4M602.3 154.0v4.4M500.5 150.1h4.4M502.7 147.9v4.4M490.8 151.3h4.4M493.0 149.1v4.4M443.5 158.9h4.4M445.7 156.7v4.4M450.5 157.5h4.4M452.7 155.3v4.4M605.2 156.9h4.4M607.4 154.7v4.4M392.2 155.8h4.4M394.4 153.6v4.4M600.1 145.2h4.4M602.3 143.0v4.4M483.7 156.0h4.4M485.9 153.8v4.4M582.3 158.5h4.4M584.5 156.3v4.4M522.7 153.2h4.4M524.9 151.0v4.4M442.5 157.4h4.4M444.7 155.2v4.4M563.0 158.2h4.4M565.2 156.0v4.4M418.3 158.8h4.4M420.5 156.6v4.4M583.7 156.4h4.4M585.9 154.2v4.4M379.5 157.2h4.4M381.7 155.0v4.4M631.4 159.0h4.4M633.6 156.8v4.4M453.3 153.2h4.4M455.5 151.0v4.4M394.0 151.8h4.4M396.2 149.6v4.4M403.8 158.0h4.4M406.0 155.8v4.4M527.7 154.9h4.4M529.9 152.7v4.4M566.4 156.4h4.4M568.6 154.2v4.4M395.7 159.7h4.4M397.9 157.5v4.4M570.0 158.5h4.4M572.2 156.3v4.4M561.0 158.1h4.4M563.2 155.9v4.4M597.7 154.5h4.4M599.9 152.3v4.4M554.9 157.9h4.4M557.1 155.7v4.4M496.9 156.2h4.4M499.1 154.0v4.4M544.7 156.6h4.4M546.9 154.4v4.4M559.4 156.7h4.4M561.6 154.5v4.4M500.9 159.5h4.4M503.1 157.3v4.4M409.4 154.8h4.4M411.6 152.6v4.4M502.6 157.5h4.4M504.8 155.3v4.4M447.6 159.5h4.4M449.8 157.3v4.4M540.6 159.5h4.4M542.8 157.3v4.4M526.0 157.9h4.4M528.2 155.7v4.4M578.6 156.6h4.4M580.8 154.4v4.4M527.7 158.6h4.4M529.9 156.4v4.4M610.3 152.4h4.4M612.5 150.2v4.4M441.8 151.1h4.4M444.0 148.9v4.4M396.3 153.3h4.4M398.5 151.1v4.4M617.9 159.7h4.4M620.1 157.5v4.4M505.7 155.3h4.4M507.9 153.1v4.4M495.6 159.5h4.4M497.8 157.3v4.4M584.2 154.1h4.4M586.4 151.9v4.4M542.2 154.8h4.4M544.4 152.6v4.4M637.3 156.6h4.4M639.5 154.4v4.4M469.6 156.2h4.4M471.8 154.0v4.4M495.1 153.2h4.4M497.3 151.0v4.4M440.8 158.5h4.4M443.0 156.3v4.4M434.9 146.4h4.4M437.1 144.2v4.4M397.1 159.3h4.4M399.3 157.1v4.4M412.5 158.3h4.4M414.7 156.1v4.4M499.3 158.4h4.4M501.5 156.2v4.4M655.5 157.8h4.4M657.7 155.6v4.4M505.1 150.3h4.4M507.3 148.1v4.4M378.8 157.0h4.4M381.0 154.8v4.4M619.0 149.1h4.4M621.2 146.9v4.4M496.2 154.1h4.4M498.4 151.9v4.4M564.2 156.9h4.4M566.4 154.7v4.4M436.5 155.5h4.4M438.7 153.3v4.4M459.3 153.7h4.4M461.5 151.5v4.4M509.6 146.2h4.4M511.8 144.0v4.4M601.3 155.9h4.4M603.5 153.7v4.4M555.0 159.4h4.4M557.2 157.2v4.4M417.9 157.2h4.4M420.1 155.0v4.4M468.0 159.5h4.4M470.2 157.3v4.4M621.6 154.9h4.4M623.8 152.7v4.4M393.7 158.2h4.4M395.9 156.0v4.4M501.5 159.3h4.4M503.7 157.1v4.4M395.8 157.4h4.4M398.0 155.2v4.4M618.2 159.4h4.4M620.4 157.2v4.4M500.1 158.8h4.4M502.3 156.6v4.4M616.5 156.2h4.4M618.7 154.0v4.4M489.2 152.8h4.4M491.4 150.6v4.4M385.2 146.1h4.4M387.4 143.9v4.4M467.5 159.6h4.4M469.7 157.4v4.4M514.4 157.4h4.4M516.6 155.2v4.4M555.2 158.4h4.4M557.4 156.2v4.4M618.5 158.8h4.4M620.7 156.6v4.4M521.9 148.4h4.4M524.1 146.2v4.4M569.9 156.5h4.4M572.1 154.3v4.4M522.2 159.6h4.4M524.4 157.4v4.4M581.0 158.9h4.4M583.2 156.7v4.4M628.1 159.4h4.4M630.3 157.2v4.4M381.3 157.6h4.4M383.5 155.4v4.4M557.7 152.4h4.4M559.9 150.2v4.4M530.2 157.9h4.4M532.4 155.7v4.4M381.0 159.3h4.4M383.2 157.1v4.4M610.5 157.4h4.4M612.7 155.2v4.4M546.1 156.6h4.4M548.3 154.4v4.4M622.1 155.3h4.4M624.3 153.1v4.4M588.8 158.5h4.4M591.0 156.3v4.4M575.0 159.7h4.4M577.2 157.5v4.4M466.7 159.5h4.4M468.9 157.3v4.4M502.3 150.9h4.4M504.5 148.7v4.4M599.0 157.5h4.4M601.2 155.3v4.4M391.1 152.0h4.4M393.3 149.8v4.4M395.4 158.8h4.4M397.6 156.6v4.4M612.5 158.9h4.4M614.7 156.7v4.4M576.2 154.0h4.4M578.4 151.8v4.4M495.8 156.5h4.4M498.0 154.3v4.4M506.6 158.0h4.4M508.8 155.8v4.4M527.1 155.9h4.4M529.3 153.7v4.4M464.0 159.2h4.4M466.2 157.0v4.4M468.7 158.8h4.4M470.9 156.6v4.4M420.8 152.7h4.4M423.0 150.5v4.4M411.0 152.6h4.4M413.2 150.4v4.4M501.6 153.4h4.4M503.8 151.2v4.4M381.8 153.2h4.4M384.0 151.0v4.4M543.5 158.9h4.4M545.7 156.7v4.4M436.3 153.2h4.4M438.5 151.0v4.4M395.4 158.0h4.4M397.6 155.8v4.4M427.3 159.0h4.4M429.5 156.8v4.4M506.1 152.2h4.4M508.3 150.0v4.4M446.4 157.3h4.4M448.6 155.1v4.4M470.2 158.2h4.4M472.4 156.0v4.4M603.2 158.2h4.4M605.4 156.0v4.4M591.5 159.6h4.4M593.7 157.4v4.4M446.6 156.2h4.4M448.8 154.0v4.4M407.2 155.7h4.4M409.4 153.5v4.4M616.4 157.1h4.4M618.6 154.9v4.4M449.6 156.7h4.4M451.8 154.5v4.4M539.2 142.2h4.4M541.4 140.0v4.4M645.6 155.0h4.4M647.8 152.8v4.4M464.1 152.9h4.4M466.3 150.7v4.4M596.8 158.5h4.4M599.0 156.3v4.4M597.0 158.3h4.4M599.2 156.1v4.4M629.3 157.1h4.4M631.5 154.9v4.4M435.1 157.9h4.4M437.3 155.7v4.4M587.8 158.3h4.4M590.0 156.1v4.4M584.3 153.0h4.4M586.5 150.8v4.4M475.0 157.7h4.4M477.2 155.5v4.4M436.0 158.5h4.4M438.2 156.3v4.4M581.1 153.7h4.4M583.3 151.5v4.4M398.5 159.7h4.4M400.7 157.5v4.4M582.2 158.3h4.4M584.4 156.1v4.4M534.2 147.1h4.4M536.4 144.9v4.4M506.6 152.1h4.4M508.8 149.9v4.4M604.7 154.3h4.4M606.9 152.1v4.4M390.0 153.8h4.4M392.2 151.6v4.4M379.2 158.6h4.4M381.4 156.4v4.4M426.8 153.8h4.4M429.0 151.6v4.4M635.1 157.3h4.4M637.3 155.1v4.4M452.4 156.3h4.4M454.6 154.1v4.4M516.6 154.4h4.4M518.8 152.2v4.4M450.3 151.4h4.4M452.5 149.2v4.4M538.5 153.2h4.4M540.7 151.0v4.4M547.6 153.7h4.4M549.8 151.5v4.4M621.1 156.8h4.4M623.3 154.6v4.4M386.8 153.1h4.4M389.0 150.9v4.4M526.7 159.1h4.4M528.9 156.9v4.4M568.0 158.6h4.4M570.2 156.4v4.4M568.8 153.1h4.4M571.0 150.9v4.4M382.3 154.9h4.4M384.5 152.7v4.4M563.6 155.3h4.4M565.8 153.1v4.4M505.9 151.4h4.4M508.1 149.2v4.4M487.3 156.3h4.4M489.5 154.1v4.4M606.6 152.1h4.4M608.8 149.9v4.4M407.6 158.0h4.4M409.8 155.8v4.4M517.7 158.9h4.4M519.9 156.7v4.4M491.2 154.7h4.4M493.4 152.5v4.4M643.2 157.8h4.4M645.4 155.6v4.4M583.5 156.7h4.4M585.7 154.5v4.4M481.0 155.4h4.4M483.2 153.2v4.4M421.6 153.5h4.4M423.8 151.3v4.4M552.7 157.5h4.4M554.9 155.3v4.4M455.1 159.6h4.4M457.3 157.4v4.4M575.0 158.8h4.4M577.2 156.6v4.4M554.8 158.6h4.4M557.0 156.4v4.4M513.9 158.2h4.4M516.1 156.0v4.4M610.7 156.2h4.4M612.9 154.0v4.4M605.6 159.5h4.4M607.8 157.3v4.4M550.9 153.7h4.4M553.1 151.5v4.4M576.5 159.7h4.4M578.7 157.5v4.4M388.7 149.3h4.4M390.9 147.1v4.4M394.4 154.3h4.4M396.6 152.1v4.4M599.1 156.9h4.4M601.3 154.7v4.4M491.5 154.2h4.4M493.7 152.0v4.4M652.2 156.7h4.4M654.4 154.5v4.4M396.2 158.8h4.4M398.4 156.6v4.4M565.4 159.5h4.4M567.6 157.3v4.4M551.1 158.0h4.4M553.3 155.8v4.4M429.2 159.3h4.4M431.4 157.1v4.4M548.4 156.0h4.4M550.6 153.8v4.4M499.7 159.2h4.4M501.9 157.0v4.4M417.3 156.5h4.4M419.5 154.3v4.4M415.0 159.5h4.4M417.2 157.3v4.4M404.4 144.5h4.4M406.6 142.3v4.4M440.2 155.9h4.4M442.4 153.7v4.4M494.7 157.9h4.4M496.9 155.7v4.4M582.4 159.0h4.4M584.6 156.8v4.4M651.3 155.6h4.4M653.5 153.4v4.4M453.5 159.5h4.4M455.7 157.3v4.4M458.4 153.7h4.4M460.6 151.5v4.4M437.9 149.9h4.4M440.1 147.7v4.4M607.1 157.2h4.4M609.3 155.0v4.4M464.4 159.7h4.4M466.6 157.5v4.4M415.2 156.9h4.4M417.4 154.7v4.4M560.5 157.3h4.4M562.7 155.1v4.4M568.7 144.9h4.4M570.9 142.7v4.4M554.5 151.7h4.4M556.7 149.5v4.4M451.8 158.2h4.4M454.0 156.0v4.4M485.9 154.4h4.4M488.1 152.2v4.4M627.2 155.9h4.4M629.4 153.7v4.4M523.4 155.5h4.4M525.6 153.3v4.4M510.1 154.2h4.4M512.3 152.0v4.4M608.7 157.7h4.4M610.9 155.5v4.4M453.0 159.5h4.4M455.2 157.3v4.4M643.6 159.3h4.4M645.8 157.1v4.4M610.7 151.9h4.4M612.9 149.7v4.4M459.5 157.6h4.4M461.7 155.4v4.4M505.2 159.4h4.4M507.4 157.2v4.4M564.5 154.4h4.4M566.7 152.2v4.4M646.7 157.3h4.4M648.9 155.1v4.4M581.9 153.3h4.4M584.1 151.1v4.4M583.0 155.4h4.4M585.2 153.2v4.4M586.8 159.0h4.4M589.0 156.8v4.4M576.3 154.9h4.4M578.5 152.7v4.4M552.9 158.9h4.4M555.1 156.7v4.4M622.7 159.3h4.4M624.9 157.1v4.4M606.2 151.3h4.4M608.4 149.1v4.4M540.3 158.8h4.4M542.5 156.6v4.4M516.8 157.2h4.4M519.0 155.0v4.4M435.3 156.9h4.4M437.5 154.7v4.4M591.9 159.7h4.4M594.1 157.5v4.4M466.2 156.8h4.4M468.4 154.6v4.4M386.2 157.1h4.4M388.4 154.9v4.4M473.5 153.3h4.4M475.7 151.1v4.4M577.8 158.2h4.4M580.0 156.0v4.4M440.0 158.1h4.4M442.2 155.9v4.4M534.6 159.6h4.4M536.8 157.4v4.4M559.9 157.4h4.4M562.1 155.2v4.4M524.8 155.0h4.4M527.0 152.8v4.4M501.7 156.4h4.4M503.9 154.2v4.4M538.5 155.3h4.4M540.7 153.1v4.4M427.4 152.5h4.4M429.6 150.3v4.4M593.1 158.7h4.4M595.3 156.5v4.4M651.1 159.6h4.4M653.3 157.4v4.4M504.8 154.5h4.4M507.0 152.3v4.4M656.4 154.6h4.4M658.6 152.4v4.4M639.1 153.3h4.4M641.3 151.1v4.4M482.4 156.4h4.4M484.6 154.2v4.4M501.1 153.2h4.4M503.3 151.0v4.4M422.6 158.3h4.4M424.8 156.1v4.4M420.1 156.4h4.4M422.3 154.2v4.4M451.0 155.5h4.4M453.2 153.3v4.4M434.9 159.6h4.4M437.1 157.4v4.4M458.6 156.2h4.4M460.8 154.0v4.4M621.0 146.5h4.4M623.2 144.3v4.4M529.3 157.5h4.4M531.5 155.3v4.4M485.6 158.7h4.4M487.8 156.5v4.4M560.7 156.3h4.4M562.9 154.1v4.4M570.2 155.5h4.4M572.4 153.3v4.4M527.4 159.8h4.4M529.6 157.6v4.4M559.1 159.1h4.4M561.3 156.9v4.4M630.4 159.5h4.4M632.6 157.3v4.4M619.4 154.8h4.4M621.6 152.6v4.4M633.7 158.6h4.4M635.9 156.4v4.4M434.9 157.5h4.4M437.1 155.3v4.4M452.4 157.7h4.4M454.6 155.5v4.4M488.3 154.0h4.4M490.5 151.8v4.4M498.4 150.0h4.4M500.6 147.8v4.4M640.0 157.1h4.4M642.2 154.9v4.4M408.2 157.9h4.4M410.4 155.7v4.4M594.7 159.3h4.4M596.9 157.1v4.4M441.3 158.6h4.4M443.5 156.4v4.4M654.1 156.4h4.4M656.3 154.2v4.4M574.0 155.7h4.4M576.2 153.5v4.4M504.6 159.6h4.4M506.8 157.4v4.4M599.8 157.7h4.4M602.0 155.5v4.4M423.8 159.3h4.4M426.0 157.1v4.4M531.6 152.1h4.4M533.8 149.9v4.4M451.7 158.6h4.4M453.9 156.4v4.4M626.6 152.5h4.4M628.8 150.3v4.4M498.7 150.4h4.4M500.9 148.2v4.4M507.9 157.2h4.4M510.1 155.0v4.4M521.0 158.3h4.4M523.2 156.1v4.4M477.1 158.1h4.4M479.3 155.9v4.4M610.8 158.7h4.4M613.0 156.5v4.4M524.8 157.7h4.4M527.0 155.5v4.4M509.3 155.8h4.4M511.5 153.6v4.4M602.4 159.8h4.4M604.6 157.6v4.4M560.2 145.4h4.4M562.4 143.2v4.4M444.8 158.0h4.4M447.0 155.8v4.4M569.0 158.3h4.4M571.2 156.1v4.4M481.6 159.8h4.4M483.8 157.6v4.4M632.7 158.0h4.4M634.9 155.8v4.4M424.5 159.2h4.4M426.7 157.0v4.4M423.6 152.8h4.4M425.8 150.6v4.4M432.6 155.8h4.4M434.8 153.6v4.4M421.8 156.7h4.4M424.0 154.5v4.4M414.7 154.5h4.4M416.9 152.3v4.4M613.7 150.7h4.4M615.9 148.5v4.4M431.2 151.1h4.4M433.4 148.9v4.4M632.6 155.2h4.4M634.8 153.0v4.4M407.3 155.8h4.4M409.5 153.6v4.4M452.7 157.4h4.4M454.9 155.2v4.4M638.7 150.1h4.4M640.9 147.9v4.4M626.9 158.5h4.4M629.1 156.3v4.4M518.5 157.3h4.4M520.7 155.1v4.4M652.6 156.9h4.4M654.8 154.7v4.4M382.3 155.3h4.4M384.5 153.1v4.4M416.3 159.0h4.4M418.5 156.8v4.4M427.4 153.9h4.4M429.6 151.7v4.4M509.0 157.9h4.4M511.2 155.7v4.4M419.9 158.7h4.4M422.1 156.5v4.4M623.7 144.8h4.4M625.9 142.6v4.4M396.8 156.0h4.4M399.0 153.8v4.4M511.1 155.5h4.4M513.3 153.3v4.4M527.8 159.1h4.4M530.0 156.9v4.4M449.5 157.8h4.4M451.7 155.6v4.4M419.5 152.0h4.4M421.7 149.8v4.4M490.3 159.1h4.4M492.5 156.9v4.4M493.6 144.1h4.4M495.8 141.9v4.4M404.6 158.9h4.4M406.8 156.7v4.4M462.5 156.9h4.4M464.7 154.7v4.4M567.9 150.4h4.4M570.1 148.2v4.4M418.7 158.9h4.4M420.9 156.7v4.4M457.9 157.5h4.4M460.1 155.3v4.4M516.2 151.1h4.4M518.4 148.9v4.4M629.5 149.2h4.4M631.7 147.0v4.4M461.0 146.2h4.4M463.2 144.0v4.4M420.4 157.7h4.4M422.6 155.5v4.4M616.4 151.5h4.4M618.6 149.3v4.4M424.7 159.1h4.4M426.9 156.9v4.4M588.2 144.6h4.4M590.4 142.4v4.4M591.8 154.6h4.4M594.0 152.4v4.4M446.4 154.7h4.4M448.6 152.5v4.4M488.2 155.8h4.4M490.4 153.6v4.4M416.5 159.2h4.4M418.7 157.0v4.4M427.1 158.8h4.4M429.3 156.6v4.4M481.3 158.5h4.4M483.5 156.3v4.4M538.0 159.1h4.4M540.2 156.9v4.4M559.5 158.8h4.4M561.7 156.6v4.4M561.0 158.2h4.4M563.2 156.0v4.4M652.5 159.4h4.4M654.7 157.2v4.4M389.6 154.0h4.4M391.8 151.8v4.4M511.2 158.1h4.4M513.4 155.9v4.4M655.7 148.1h4.4M657.9 145.9v4.4M399.7 157.5h4.4M401.9 155.3v4.4M380.4 156.6h4.4M382.6 154.4v4.4M609.0 155.1h4.4M611.2 152.9v4.4M499.6 159.3h4.4M501.8 157.1v4.4M654.1 158.5h4.4M656.3 156.3v4.4M520.6 159.6h4.4M522.8 157.4v4.4M564.9 157.8h4.4M567.1 155.6v4.4M648.7 158.5h4.4M650.9 156.3v4.4M465.0 159.4h4.4M467.2 157.2v4.4M483.6 157.6h4.4M485.8 155.4v4.4M592.9 158.5h4.4M595.1 156.3v4.4M569.1 148.7h4.4M571.3 146.5v4.4M596.2 157.3h4.4M598.4 155.1v4.4M463.3 155.2h4.4M465.5 153.0v4.4M474.7 159.4h4.4M476.9 157.2v4.4M384.0 159.3h4.4M386.2 157.1v4.4M382.3 159.3h4.4M384.5 157.1v4.4M644.8 154.6h4.4M647.0 152.4v4.4M470.2 159.5h4.4M472.4 157.3v4.4M485.6 158.9h4.4M487.8 156.7v4.4M469.8 148.6h4.4M472.0 146.4v4.4M429.2 152.9h4.4M431.4 150.7v4.4M386.7 157.5h4.4M388.9 155.3v4.4M486.8 150.4h4.4M489.0 148.2v4.4M636.8 155.6h4.4M639.0 153.4v4.4M655.7 150.6h4.4M657.9 148.4v4.4M539.5 150.4h4.4M541.7 148.2v4.4M391.8 159.6h4.4M394.0 157.4v4.4M439.6 159.0h4.4M441.8 156.8v4.4M430.2 157.8h4.4M432.4 155.6v4.4M643.7 159.6h4.4M645.9 157.4v4.4M541.0 159.0h4.4M543.2 156.8v4.4M566.7 159.6h4.4M568.9 157.4v4.4M553.2 155.8h4.4M555.4 153.6v4.4M434.3 157.1h4.4M436.5 154.9v4.4M576.2 155.3h4.4M578.4 153.1v4.4M495.9 152.8h4.4M498.1 150.6v4.4M636.7 154.6h4.4M638.9 152.4v4.4M524.6 150.5h4.4M526.8 148.3v4.4M534.5 157.1h4.4M536.7 154.9v4.4M579.3 157.6h4.4M581.5 155.4v4.4M487.5 159.7h4.4M489.7 157.5v4.4M633.7 158.8h4.4M635.9 156.6v4.4M549.9 147.3h4.4M552.1 145.1v4.4M505.2 157.9h4.4M507.4 155.7v4.4M601.0 151.0h4.4M603.2 148.8v4.4M432.5 157.2h4.4M434.7 155.0v4.4M548.2 150.0h4.4M550.4 147.8v4.4M612.7 154.7h4.4M614.9 152.5v4.4M397.8 157.7h4.4M400.0 155.5v4.4M549.2 158.8h4.4M551.4 156.6v4.4M454.6 155.2h4.4M456.8 153.0v4.4M418.2 148.8h4.4M420.4 146.6v4.4M638.3 156.8h4.4M640.5 154.6v4.4M392.3 152.7h4.4M394.5 150.5v4.4M389.7 158.6h4.4M391.9 156.4v4.4M490.0 159.0h4.4M492.2 156.8v4.4M465.8 156.0h4.4M468.0 153.8v4.4M443.8 156.8h4.4M446.0 154.6v4.4M383.8 157.9h4.4M386.0 155.7v4.4M500.3 153.6h4.4M502.5 151.4v4.4M624.9 159.4h4.4M627.1 157.2v4.4M652.3 158.8h4.4M654.5 156.6v4.4M568.2 157.7h4.4M570.4 155.5v4.4M535.8 159.6h4.4M538.0 157.4v4.4M439.8 158.6h4.4M442.0 156.4v4.4M382.9 158.6h4.4M385.1 156.4v4.4M429.7 149.4h4.4M431.9 147.2v4.4M593.7 159.5h4.4M595.9 157.3v4.4M386.3 157.1h4.4M388.5 154.9v4.4M537.5 158.3h4.4M539.7 156.1v4.4M636.1 155.8h4.4M638.3 153.6v4.4M586.8 159.5h4.4M589.0 157.3v4.4M480.6 157.6h4.4M482.8 155.4v4.4M518.9 157.0h4.4M521.1 154.8v4.4M643.4 158.2h4.4M645.6 156.0v4.4M533.5 158.1h4.4M535.7 155.9v4.4M392.9 157.7h4.4M395.1 155.5v4.4M450.3 159.4h4.4M452.5 157.2v4.4M397.5 149.7h4.4M399.7 147.5v4.4M494.9 156.3h4.4M497.1 154.1v4.4M471.7 154.6h4.4M473.9 152.4v4.4M509.3 159.3h4.4M511.5 157.1v4.4M477.9 152.2h4.4M480.1 150.0v4.4M531.4 159.5h4.4M533.6 157.3v4.4M399.0 154.9h4.4M401.2 152.7v4.4M642.4 151.7h4.4M644.6 149.5v4.4M609.5 158.8h4.4M611.7 156.6v4.4M394.0 156.8h4.4M396.2 154.6v4.4M579.5 157.7h4.4M581.7 155.5v4.4M403.6 159.0h4.4M405.8 156.8v4.4M449.6 155.0h4.4M451.8 152.8v4.4M427.5 158.3h4.4M429.7 156.1v4.4M420.4 158.8h4.4M422.6 156.6v4.4M585.2 155.6h4.4M587.4 153.4v4.4M466.3 150.2h4.4M468.5 148.0v4.4M426.4 159.3h4.4M428.6 157.1v4.4M647.5 153.7h4.4M649.7 151.5v4.4M571.5 159.0h4.4M573.7 156.8v4.4M402.4 156.4h4.4M404.6 154.2v4.4M598.1 151.5h4.4M600.3 149.3v4.4M564.2 156.8h4.4M566.4 154.6v4.4M574.5 156.7h4.4M576.7 154.5v4.4M443.6 158.9h4.4M445.8 156.7v4.4M454.1 158.5h4.4M456.3 156.3v4.4M586.6 147.0h4.4M588.8 144.8v4.4M604.2 158.8h4.4M606.4 156.6v4.4M489.3 149.3h4.4M491.5 147.1v4.4M445.3 157.7h4.4M447.5 155.5v4.4M540.7 154.9h4.4M542.9 152.7v4.4M389.6 158.6h4.4M391.8 156.4v4.4M489.8 148.6h4.4M492.0 146.4v4.4M596.3 152.3h4.4M598.5 150.1v4.4M409.9 150.5h4.4M412.1 148.3v4.4M656.4 156.1h4.4M658.6 153.9v4.4M500.0 159.1h4.4M502.2 156.9v4.4M487.2 159.5h4.4M489.4 157.3v4.4M467.6 152.6h4.4M469.8 150.4v4.4M479.5 154.4h4.4M481.7 152.2v4.4M399.5 157.9h4.4M401.7 155.7v4.4M613.5 147.6h4.4M615.7 145.4v4.4M648.2 150.7h4.4M650.4 148.5v4.4M443.8 148.9h4.4M446.0 146.7v4.4M581.6 155.2h4.4M583.8 153.0v4.4M588.5 155.0h4.4M590.7 152.8v4.4M538.9 158.9h4.4M541.1 156.7v4.4M415.7 158.3h4.4M417.9 156.1v4.4M423.5 150.2h4.4M425.7 148.0v4.4M585.7 159.4h4.4M587.9 157.2v4.4M623.7 146.1h4.4M625.9 143.9v4.4M472.1 159.3h4.4M474.3 157.1v4.4M442.9 156.2h4.4M445.1 154.0v4.4M627.8 158.0h4.4M630.0 155.8v4.4M566.5 156.8h4.4M568.7 154.6v4.4M451.1 157.7h4.4M453.3 155.5v4.4M608.7 159.4h4.4M610.9 157.2v4.4M655.8 157.5h4.4M658.0 155.3v4.4M393.3 156.3h4.4M395.5 154.1v4.4M424.6 159.5h4.4M426.8 157.3v4.4M489.3 148.9h4.4M491.5 146.7v4.4M494.2 153.3h4.4M496.4 151.1v4.4M517.7 159.0h4.4M519.9 156.8v4.4M558.3 158.9h4.4M560.5 156.7v4.4M468.9 154.9h4.4M471.1 152.7v4.4M481.2 153.9h4.4M483.4 151.7v4.4M620.2 156.8h4.4M622.4 154.6v4.4M552.8 158.5h4.4M555.0 156.3v4.4M501.9 149.3h4.4M504.1 147.1v4.4M536.5 156.3h4.4M538.7 154.1v4.4M393.2 157.1h4.4M395.4 154.9v4.4M625.9 159.3h4.4M628.1 157.1v4.4M627.4 151.1h4.4M629.6 148.9v4.4M508.5 156.5h4.4M510.7 154.3v4.4M616.3 158.8h4.4M618.5 156.6v4.4M436.0 150.4h4.4M438.2 148.2v4.4M487.0 159.6h4.4M489.2 157.4v4.4M510.3 154.2h4.4M512.5 152.0v4.4M424.3 158.3h4.4M426.5 156.1v4.4M619.6 157.9h4.4M621.8 155.7v4.4M529.7 156.2h4.4M531.9 154.0v4.4M616.2 156.7h4.4M618.4 154.5v4.4M431.7 159.3h4.4M433.9 157.1v4.4M412.9 159.5h4.4M415.1 157.3v4.4M389.7 156.9h4.4M391.9 154.7v4.4M520.6 151.3h4.4M522.8 149.1v4.4M611.2 157.6h4.4M613.4 155.4v4.4M591.6 142.8h4.4M593.8 140.6v4.4M469.4 156.8h4.4M471.6 154.6v4.4M634.1 156.3h4.4M636.3 154.1v4.4M623.6 155.7h4.4M625.8 153.5v4.4M409.2 149.9h4.4M411.4 147.7v4.4M635.0 159.0h4.4M637.2 156.8v4.4M498.4 158.4h4.4M500.6 156.2v4.4M544.6 159.2h4.4M546.8 157.0v4.4M580.3 158.4h4.4M582.5 156.2v4.4M632.4 159.6h4.4M634.6 157.4v4.4M422.6 157.8h4.4M424.8 155.6v4.4M398.8 153.0h4.4M401.0 150.8v4.4M444.5 158.5h4.4M446.7 156.3v4.4M539.3 157.3h4.4M541.5 155.1v4.4M404.9 158.5h4.4M407.1 156.3v4.4M497.7 158.2h4.4M499.9 156.0v4.4M397.7 157.4h4.4M399.9 155.2v4.4M477.5 156.7h4.4M479.7 154.5v4.4M413.0 158.7h4.4M415.2 156.5v4.4M420.7 159.6h4.4M422.9 157.4v4.4M582.2 154.9h4.4M584.4 152.7v4.4M440.0 158.7h4.4M442.2 156.5v4.4M643.3 148.9h4.4M645.5 146.7v4.4M444.9 157.0h4.4M447.1 154.8v4.4M569.4 156.9h4.4M571.6 154.7v4.4M470.2 157.9h4.4M472.4 155.7v4.4M530.1 155.2h4.4M532.3 153.0v4.4M512.8 154.9h4.4M515.0 152.7v4.4M570.6 153.4h4.4M572.8 151.2v4.4M389.6 153.4h4.4M391.8 151.2v4.4M464.5 157.4h4.4M466.7 155.2v4.4M522.6 153.4h4.4M524.8 151.2v4.4M431.2 157.8h4.4M433.4 155.6v4.4M427.9 158.3h4.4M430.1 156.1v4.4M605.5 153.8h4.4M607.7 151.6v4.4M404.6 154.7h4.4M406.8 152.5v4.4M392.3 155.4h4.4M394.5 153.2v4.4M585.1 159.7h4.4M587.3 157.5v4.4M411.2 154.8h4.4M413.4 152.6v4.4M466.0 159.1h4.4M468.2 156.9v4.4M436.5 159.1h4.4M438.7 156.9v4.4M447.8 149.7h4.4M450.0 147.5v4.4M431.3 157.6h4.4M433.5 155.4v4.4M621.8 154.6h4.4M624.0 152.4v4.4M592.4 158.2h4.4M594.6 156.0v4.4M390.3 159.5h4.4M392.5 157.3v4.4M481.0 156.8h4.4M483.2 154.6v4.4M539.1 155.5h4.4M541.3 153.3v4.4M655.2 155.2h4.4M657.4 153.0v4.4M391.1 159.3h4.4M393.3 157.1v4.4M509.9 158.9h4.4M512.1 156.7v4.4M469.5 158.3h4.4M471.7 156.1v4.4M527.4 146.3h4.4M529.6 144.1v4.4M646.5 159.7h4.4M648.7 157.5v4.4M544.2 153.0h4.4M546.4 150.8v4.4M507.3 158.4h4.4M509.5 156.2v4.4M473.0 144.5h4.4M475.2 142.3v4.4M638.9 150.2h4.4M641.1 148.0v4.4M595.8 157.0h4.4M598.0 154.8v4.4M417.0 156.8h4.4M419.2 154.6v4.4M597.8 158.9h4.4M600.0 156.7v4.4M587.6 146.4h4.4M589.8 144.2v4.4M645.8 155.6h4.4M648.0 153.4v4.4M401.7 153.2h4.4M403.9 151.0v4.4M470.5 159.2h4.4M472.7 157.0v4.4M439.4 149.7h4.4M441.6 147.5v4.4M600.5 153.2h4.4M602.7 151.0v4.4M466.7 159.0h4.4M468.9 156.8v4.4M522.0 155.7h4.4M524.2 153.5v4.4M564.5 156.2h4.4M566.7 154.0v4.4M473.1 159.2h4.4M475.3 157.0v4.4M517.5 151.6h4.4M519.7 149.4v4.4M380.6 153.1h4.4M382.8 150.9v4.4M504.8 152.4h4.4M507.0 150.2v4.4M608.4 158.5h4.4M610.6 156.3v4.4M571.3 147.5h4.4M573.5 145.3v4.4M586.6 158.6h4.4M588.8 156.4v4.4M444.1 157.4h4.4M446.3 155.2v4.4M560.9 150.2h4.4M563.1 148.0v4.4M554.4 152.5h4.4M556.6 150.3v4.4M431.8 149.0h4.4M434.0 146.8v4.4M629.3 157.7h4.4M631.5 155.5v4.4M466.4 159.6h4.4M468.6 157.4v4.4M616.5 147.4h4.4M618.7 145.2v4.4M612.8 158.6h4.4M615.0 156.4v4.4M484.6 154.8h4.4M486.8 152.6v4.4M404.0 158.7h4.4M406.2 156.5v4.4M463.5 151.5h4.4M465.7 149.3v4.4M621.5 154.8h4.4M623.7 152.6v4.4M408.8 153.1h4.4M411.0 150.9v4.4M413.5 158.2h4.4M415.7 156.0v4.4M562.5 153.7h4.4M564.7 151.5v4.4M611.7 154.5h4.4M613.9 152.3v4.4M388.8 159.2h4.4M391.0 157.0v4.4M525.2 155.8h4.4M527.4 153.6v4.4M506.4 156.3h4.4M508.6 154.1v4.4M426.1 159.5h4.4M428.3 157.3v4.4M466.4 159.0h4.4M468.6 156.8v4.4M561.3 150.0h4.4M563.5 147.8v4.4M607.9 151.9h4.4M610.1 149.7v4.4M417.8 154.9h4.4M420.0 152.7v4.4M455.9 159.3h4.4M458.1 157.1v4.4M501.3 155.1h4.4M503.5 152.9v4.4M444.0 158.6h4.4M446.2 156.4v4.4M411.5 148.3h4.4M413.7 146.1v4.4M456.3 159.1h4.4M458.5 156.9v4.4M531.8 144.2h4.4M534.0 142.0v4.4M615.8 142.9h4.4M618.0 140.7v4.4M646.8 146.4h4.4M649.0 144.2v4.4M621.2 138.6h4.4M623.4 136.4v4.4M468.5 146.2h4.4M470.7 144.0v4.4M472.5 138.9h4.4M474.7 136.7v4.4M513.8 137.5h4.4M516.0 135.3v4.4M552.2 138.9h4.4M554.4 136.7v4.4M426.2 146.7h4.4M428.4 144.5v4.4M499.0 145.4h4.4M501.2 143.2v4.4M473.0 138.7h4.4M475.2 136.5v4.4M634.7 143.1h4.4M636.9 140.9v4.4M624.5 145.0h4.4M626.7 142.8v4.4M481.1 139.3h4.4M483.3 137.1v4.4M383.4 138.5h4.4M385.6 136.3v4.4M654.9 146.3h4.4M657.1 144.1v4.4M491.1 142.3h4.4M493.3 140.1v4.4M635.5 137.9h4.4M637.7 135.7v4.4M483.5 146.0h4.4M485.7 143.8v4.4M481.5 145.5h4.4M483.7 143.3v4.4M522.8 139.3h4.4M525.0 137.1v4.4M425.9 146.6h4.4M428.1 144.4v4.4M432.0 142.1h4.4M434.2 139.9v4.4M433.0 145.5h4.4M435.2 143.3v4.4M580.6 142.1h4.4M582.8 139.9v4.4M506.3 142.1h4.4M508.5 139.9v4.4M398.2 142.5h4.4M400.4 140.3v4.4M652.3 142.1h4.4M654.5 139.9v4.4M612.3 141.3h4.4M614.5 139.1v4.4M485.9 137.3h4.4M488.1 135.1v4.4M532.1 137.8h4.4M534.3 135.6v4.4M634.7 140.8h4.4M636.9 138.6v4.4M457.1 138.6h4.4M459.3 136.4v4.4M615.3 146.1h4.4M617.5 143.9v4.4M609.4 146.3h4.4M611.6 144.1v4.4M486.7 144.9h4.4M488.9 142.7v4.4M646.3 139.4h4.4M648.5 137.2v4.4M595.9 144.4h4.4M598.1 142.2v4.4M541.8 137.9h4.4M544.0 135.7v4.4M415.5 140.1h4.4M417.7 137.9v4.4M557.5 145.1h4.4M559.7 142.9v4.4M426.5 139.1h4.4M428.7 136.9v4.4M415.6 139.0h4.4M417.8 136.8v4.4M556.4 144.4h4.4M558.6 142.2v4.4M535.2 139.0h4.4M537.4 136.8v4.4M471.7 140.6h4.4M473.9 138.4v4.4M638.4 147.1h4.4M640.6 144.9v4.4M595.9 137.2h4.4M598.1 135.0v4.4M560.7 139.0h4.4M562.9 136.8v4.4M380.9 139.7h4.4M383.1 137.5v4.4M518.0 144.0h4.4M520.2 141.8v4.4M559.7 146.9h4.4M561.9 144.7v4.4M394.7 146.6h4.4M396.9 144.4v4.4M628.4 145.3h4.4M630.6 143.1v4.4M547.6 139.8h4.4M549.8 137.6v4.4M404.2 147.6h4.4M406.4 145.4v4.4M452.3 147.4h4.4M454.5 145.2v4.4M523.0 142.9h4.4M525.2 140.7v4.4M613.2 146.1h4.4M615.4 143.9v4.4M581.8 144.4h4.4M584.0 142.2v4.4M407.0 146.8h4.4M409.2 144.6v4.4M533.7 147.8h4.4M535.9 145.6v4.4M406.5 141.9h4.4M408.7 139.7v4.4M475.3 140.1h4.4M477.5 137.9v4.4M641.3 143.1h4.4M643.5 140.9v4.4M501.9 142.1h4.4M504.1 139.9v4.4M461.6 143.6h4.4M463.8 141.4v4.4M560.5 147.4h4.4M562.7 145.2v4.4M638.2 140.4h4.4M640.4 138.2v4.4M508.0 147.3h4.4M510.2 145.1v4.4M625.4 138.6h4.4M627.6 136.4v4.4M391.6 140.1h4.4M393.8 137.9v4.4M619.8 137.9h4.4M622.0 135.7v4.4M398.7 137.4h4.4M400.9 135.2v4.4M399.5 142.7h4.4M401.7 140.5v4.4M455.4 144.5h4.4M457.6 142.3v4.4M515.7 142.4h4.4M517.9 140.2v4.4M498.6 146.2h4.4M500.8 144.0v4.4M543.1 147.8h4.4M545.3 145.6v4.4M620.3 143.1h4.4M622.5 140.9v4.4M515.0 140.2h4.4M517.2 138.0v4.4M427.6 144.9h4.4M429.8 142.7v4.4M454.8 140.3h4.4M457.0 138.1v4.4M400.0 143.8h4.4M402.2 141.6v4.4M464.6 141.5h4.4M466.8 139.3v4.4M407.7 142.0h4.4M409.9 139.8v4.4M606.7 143.8h4.4M608.9 141.6v4.4M630.1 147.4h4.4M632.3 145.2v4.4M563.7 139.0h4.4M565.9 136.8v4.4M392.3 142.4h4.4M394.5 140.2v4.4M612.8 141.7h4.4M615.0 139.5v4.4M431.4 141.5h4.4M433.6 139.3v4.4M397.5 140.4h4.4M399.7 138.2v4.4M596.2 138.0h4.4M598.4 135.8v4.4M656.3 142.2h4.4M658.5 140.0v4.4M502.6 146.4h4.4M504.8 144.2v4.4M529.7 139.6h4.4M531.9 137.4v4.4M500.0 147.9h4.4M502.2 145.7v4.4M637.6 145.0h4.4M639.8 142.8v4.4M611.7 140.0h4.4M613.9 137.8v4.4M432.3 140.3h4.4M434.5 138.1v4.4M448.8 143.9h4.4M451.0 141.7v4.4M589.2 146.5h4.4M591.4 144.3v4.4M435.8 147.4h4.4M438.0 145.2v4.4M506.1 147.3h4.4M508.3 145.1v4.4M559.2 137.6h4.4M561.4 135.4v4.4M498.1 137.2h4.4M500.3 135.0v4.4M582.0 137.9h4.4M584.2 135.7v4.4M443.6 137.4h4.4M445.8 135.2v4.4M499.7 146.0h4.4M501.9 143.8v4.4M558.7 141.2h4.4M560.9 139.0v4.4M457.4 144.6h4.4M459.6 142.4v4.4M416.8 143.9h4.4M419.0 141.7v4.4M633.3 143.2h4.4M635.5 141.0v4.4M413.8 147.1h4.4M416.0 144.9v4.4M431.8 146.5h4.4M434.0 144.3v4.4M503.6 140.4h4.4M505.8 138.2v4.4M552.3 147.4h4.4M554.5 145.2v4.4M505.3 143.9h4.4M507.5 141.7v4.4M435.6 139.1h4.4M437.8 136.9v4.4M447.1 143.9h4.4M449.3 141.7v4.4M603.5 144.9h4.4M605.7 142.7v4.4M596.7 142.5h4.4M598.9 140.3v4.4M459.1 143.2h4.4M461.3 141.0v4.4M434.2 137.0h4.4M436.4 134.8v4.4M538.5 138.5h4.4M540.7 136.3v4.4M651.7 145.9h4.4M653.9 143.7v4.4M417.6 145.2h4.4M419.8 143.0v4.4M577.5 141.9h4.4M579.7 139.7v4.4M597.2 140.7h4.4M599.4 138.5v4.4M613.2 143.0h4.4M615.4 140.8v4.4M594.9 146.5h4.4M597.1 144.3v4.4M638.3 147.6h4.4M640.5 145.4v4.4M602.1 136.4h4.4M604.3 134.2v4.4M560.4 136.1h4.4M562.6 133.9v4.4M608.3 136.4h4.4M610.5 134.2v4.4M641.9 141.0h4.4M644.1 138.8v4.4M579.5 137.1h4.4M581.7 134.9v4.4M609.2 147.8h4.4M611.4 145.6v4.4M598.5 136.9h4.4M600.7 134.7v4.4M591.0 138.6h4.4M593.2 136.4v4.4M574.0 142.9h4.4M576.2 140.7v4.4M625.7 137.6h4.4M627.9 135.4v4.4M607.2 144.6h4.4M609.4 142.4v4.4M588.6 140.6h4.4M590.8 138.4v4.4M568.4 148.0h4.4M570.6 145.8v4.4M559.7 141.9h4.4M561.9 139.7v4.4M591.6 138.6h4.4M593.8 136.4v4.4M579.4 139.6h4.4M581.6 137.4v4.4M606.8 140.1h4.4M609.0 137.9v4.4M636.3 145.5h4.4M638.5 143.3v4.4M579.0 145.2h4.4M581.2 143.0v4.4M591.0 141.6h4.4M593.2 139.4v4.4M634.4 142.2h4.4M636.6 140.0v4.4M622.6 147.3h4.4M624.8 145.1v4.4M561.2 139.4h4.4M563.4 137.2v4.4M637.8 142.3h4.4M640.0 140.1v4.4M611.8 142.5h4.4M614.0 140.3v4.4M603.0 142.5h4.4M605.2 140.3v4.4M571.3 147.6h4.4M573.5 145.4v4.4M559.9 137.3h4.4M562.1 135.1v4.4M609.4 142.2h4.4M611.6 140.0v4.4M593.7 140.8h4.4M595.9 138.6v4.4M644.4 146.7h4.4M646.6 144.5v4.4M574.7 137.6h4.4M576.9 135.4v4.4M648.7 144.8h4.4M650.9 142.6v4.4M611.3 141.5h4.4M613.5 139.3v4.4M644.1 146.6h4.4M646.3 144.4v4.4M631.4 141.7h4.4M633.6 139.5v4.4M597.2 141.1h4.4M599.4 138.9v4.4M642.6 139.8h4.4M644.8 137.6v4.4M646.3 140.4h4.4M648.5 138.2v4.4M609.1 136.5h4.4M611.3 134.3v4.4M565.5 145.7h4.4M567.7 143.5v4.4M629.0 147.9h4.4M631.2 145.7v4.4M605.8 146.7h4.4M608.0 144.5v4.4M583.3 137.3h4.4M585.5 135.1v4.4M561.8 142.1h4.4M564.0 139.9v4.4M559.7 141.6h4.4M561.9 139.4v4.4M599.4 142.2h4.4M601.6 140.0v4.4M616.9 144.0h4.4M619.1 141.8v4.4M560.5 147.1h4.4M562.7 144.9v4.4M643.0 146.8h4.4M645.2 144.6v4.4M641.8 146.5h4.4M644.0 144.3v4.4M561.7 144.9h4.4M563.9 142.7v4.4M586.4 141.5h4.4M588.6 139.3v4.4M637.8 139.9h4.4M640.0 137.7v4.4M613.8 139.4h4.4M616.0 137.2v4.4M634.1 143.1h4.4M636.3 140.9v4.4M558.8 137.0h4.4M561.0 134.8v4.4M436.5 101.3h4.4M438.7 99.1v4.4M433.7 107.2h4.4M435.9 105.0v4.4M443.2 105.1h4.4M445.4 102.9v4.4M443.8 114.4h4.4M446.0 112.2v4.4M447.4 115.0h4.4M449.6 112.8v4.4M386.9 131.5h4.4M389.1 129.3v4.4M419.6 132.5h4.4M421.8 130.3v4.4M380.0 136.1h4.4M382.2 133.9v4.4M379.3 139.3h4.4M381.5 137.1v4.4M396.8 138.9h4.4M399.0 136.7v4.4M402.1 139.7h4.4M404.3 137.5v4.4M410.1 136.7h4.4M412.3 134.5v4.4M409.5 139.7h4.4M411.7 137.5v4.4M428.0 135.0h4.4M430.2 132.8v4.4M431.2 138.2h4.4M433.4 136.0v4.4M437.9 137.2h4.4M440.1 135.0v4.4M443.8 139.3h4.4M446.0 137.1v4.4M427.4 140.3h4.4M429.6 138.1v4.4M450.2 122.4h4.4M452.4 120.2v4.4M448.1 126.2h4.4M450.3 124.0v4.4M449.3 128.5h4.4M451.5 126.3v4.4M468.1 129.8h4.4M470.3 127.6v4.4M468.7 134.0h4.4M470.9 131.8v4.4M448.7 133.6h4.4M450.9 131.4v4.4M455.5 136.1h4.4M457.7 133.9v4.4M484.5 134.6h4.4M486.7 132.4v4.4M493.0 122.4h4.4M495.2 120.2v4.4M493.4 124.9h4.4M495.6 122.7v4.4M491.7 133.0h4.4M493.9 130.8v4.4M508.2 116.1h4.4M510.4 113.9v4.4M510.3 110.8h4.4M512.5 108.6v4.4M463.9 139.3h4.4M466.1 137.1v4.4M487.7 137.2h4.4M489.9 135.0v4.4M498.7 138.9h4.4M500.9 136.7v4.4M510.6 110.2h4.4M512.8 108.0v4.4M508.1 116.6h4.4M510.3 114.4v4.4M520.6 114.3h4.4M522.8 112.1v4.4M521.4 119.5h4.4M523.6 117.3v4.4M523.8 119.5h4.4M526.0 117.3v4.4M526.3 119.5h4.4M528.5 117.3v4.4M528.8 119.5h4.4M531.0 117.3v4.4M532.6 119.5h4.4M534.8 117.3v4.4M536.9 120.9h4.4M539.1 118.7v4.4M493.0 122.6h4.4M495.2 120.4v4.4M493.3 125.2h4.4M495.5 123.0v4.4M519.7 126.9h4.4M521.9 124.7v4.4M525.7 131.2h4.4M527.9 129.0v4.4M543.8 130.3h4.4M546.0 128.1v4.4M547.3 133.8h4.4M549.5 131.6v4.4M544.7 135.5h4.4M546.9 133.3v4.4M582.7 116.5h4.4M584.9 114.3v4.4M570.1 123.5h4.4M572.3 121.3v4.4M580.4 124.1h4.4M582.6 121.9v4.4M593.0 124.5h4.4M595.2 122.3v4.4M580.6 129.2h4.4M582.8 127.0v4.4M567.3 132.5h4.4M569.5 130.3v4.4M558.5 135.1h4.4M560.7 132.9v4.4M547.3 133.6h4.4M549.5 131.4v4.4M544.5 129.8h4.4M546.7 127.6v4.4M581.0 134.0h4.4M583.2 131.8v4.4M584.2 137.2h4.4M586.4 135.0v4.4M590.5 135.1h4.4M592.7 132.9v4.4M594.7 134.0h4.4M596.9 131.8v4.4M601.1 132.5h4.4M603.3 130.3v4.4M604.8 131.9h4.4M607.0 129.7v4.4M551.5 141.4h4.4M553.7 139.2v4.4M631.1 108.3h4.4M633.3 106.1v4.4M629.4 119.3h4.4M631.6 117.1v4.4M617.8 127.7h4.4M620.0 125.5v4.4M620.8 127.2h4.4M623.0 125.0v4.4M623.8 127.5h4.4M626.0 125.3v4.4M626.3 128.5h4.4M628.5 126.3v4.4M647.4 126.6h4.4M649.6 124.4v4.4M649.5 128.7h4.4M651.7 126.5v4.4M654.3 134.0h4.4M656.5 131.8v4.4M641.0 128.7h4.4M643.2 126.5v4.4M636.8 129.2h4.4M639.0 127.0v4.4M637.8 136.1h4.4M640.0 133.9v4.4M601.6 129.8h4.4M603.8 127.6v4.4M607.3 130.4h4.4M609.5 128.2v4.4M610.5 129.4h4.4M612.7 127.2v4.4M614.7 130.4h4.4M616.9 128.2v4.4M618.9 131.9h4.4M621.1 129.7v4.4M574.7 135.1h4.4M576.9 132.9v4.4M393.7 142.4h4.4M395.9 140.2v4.4" stroke="#0a0a82" stroke-width="0.85" fill="none"/>
<path d="M520.9 107.4h4.4M523.1 105.2v4.4M528.7 110.5h4.4M530.9 108.3v4.4M533.5 114.3h4.4M535.7 112.1v4.4M524.0 114.3h4.4M526.2 112.1v4.4M516.2 129.5h4.4M518.4 127.3v4.4M501.4 133.0h4.4M503.6 130.8v4.4M503.8 131.5h4.4M506.0 129.3v4.4M506.3 130.2h4.4M508.5 128.0v4.4M508.8 129.0h4.4M511.0 126.8v4.4M510.3 128.3h4.4M512.5 126.1v4.4M540.3 139.3h4.4M542.5 137.1v4.4M500.1 127.7h4.4M502.3 125.5v4.4" stroke="#87cefa" stroke-width="0.85" fill="none"/>
<path d="M513.7 116.6h4.4M515.9 114.4v4.4M512.8 120.9h4.4M515.0 118.7v4.4M515.0 123.4h4.4M517.2 121.2v4.4M511.3 120.3h4.4M513.5 118.1v4.4M538.7 130.3h4.4M540.9 128.1v4.4M536.9 132.0h4.4M539.1 129.8v4.4M538.8 130.8h4.4M541.0 128.6v4.4" stroke="#00ee00" stroke-width="0.85" fill="none"/>
<path d="M519.6 55.7h4.4M521.8 53.5v4.4M530.3 83.3h4.4M532.5 81.1v4.4" stroke="#ffa500" stroke-width="0.85" fill="none"/>
<path d="M526.1 64.4h4.4M528.3 62.2v4.4M532.3 66.0h4.4M534.5 63.8v4.4M517.3 36.5h4.4M519.5 34.3v4.4M519.1 36.2h4.4M521.3 34.0v4.4" stroke="#ff0000" stroke-width="0.85" fill="none"/>
<text x="519.4" y="31.6" text-anchor="middle" class="t">rs71338792:AT</text>
<rect x="383" y="13" width="22" height="44" fill="#fff"/>
<rect x="385.2" y="15.3" width="5.6" height="8" fill="#ff0000"/>
<rect x="385.2" y="23.3" width="5.6" height="8" fill="#ffa500"/>
<rect x="385.2" y="31.3" width="5.6" height="8" fill="#00ee00"/>
<rect x="385.2" y="39.3" width="5.6" height="8" fill="#87cefa"/>
<rect x="385.2" y="47.3" width="5.6" height="8" fill="#000080"/>
<rect x="385.2" y="15.3" width="5.6" height="40" fill="none" stroke="#000" stroke-width="0.6"/>
<line x1="390.8" y1="23.3" x2="392.8" y2="23.3" stroke="#000" stroke-width="0.5"/>
<text x="394.6" y="25.6" class="t">0.8</text>
<line x1="390.8" y1="31.3" x2="392.8" y2="31.3" stroke="#000" stroke-width="0.5"/>
<text x="394.6" y="33.6" class="t">0.6</text>
<line x1="390.8" y1="39.3" x2="392.8" y2="39.3" stroke="#000" stroke-width="0.5"/>
<text x="394.6" y="41.6" class="t">0.4</text>
<line x1="390.8" y1="47.3" x2="392.8" y2="47.3" stroke="#000" stroke-width="0.5"/>
<text x="394.6" y="49.6" class="t">0.2</text>
<text x="390.4" y="13.6" class="t" font-style="italic" style="font-size:6.2px">r<tspan style="font-size:4.4px" dx="0.4" dy="-3.3">2</tspan></text>
<rect x="379.5" y="4.3" width="281" height="162.7" fill="none" stroke="#7f7f7f" stroke-width="1.1"/>
<line x1="376.8" y1="159.80" x2="379.5" y2="159.80" stroke="#333" stroke-width="0.6"/>
<text x="375.2" y="162.10" text-anchor="end" class="t">0</text>
<line x1="660.5" y1="159.80" x2="663.2" y2="159.80" stroke="#333" stroke-width="0.6"/>
<text x="665.6" y="162.10" class="t">0</text>
<line x1="376.8" y1="130.08" x2="379.5" y2="130.08" stroke="#333" stroke-width="0.6"/>
<text x="375.2" y="132.38" text-anchor="end" class="t">2</text>
<line x1="660.5" y1="130.08" x2="663.2" y2="130.08" stroke="#333" stroke-width="0.6"/>
<text x="665.6" y="132.38" class="t">20</text>
<line x1="376.8" y1="100.36" x2="379.5" y2="100.36" stroke="#333" stroke-width="0.6"/>
<text x="375.2" y="102.66" text-anchor="end" class="t">4</text>
<line x1="660.5" y1="100.36" x2="663.2" y2="100.36" stroke="#333" stroke-width="0.6"/>
<text x="665.6" y="102.66" class="t">40</text>
<line x1="376.8" y1="70.64" x2="379.5" y2="70.64" stroke="#333" stroke-width="0.6"/>
<text x="375.2" y="72.94" text-anchor="end" class="t">6</text>
<line x1="660.5" y1="70.64" x2="663.2" y2="70.64" stroke="#333" stroke-width="0.6"/>
<text x="665.6" y="72.94" class="t">60</text>
<line x1="376.8" y1="40.92" x2="379.5" y2="40.92" stroke="#333" stroke-width="0.6"/>
<text x="375.2" y="43.22" text-anchor="end" class="t">8</text>
<line x1="660.5" y1="40.92" x2="663.2" y2="40.92" stroke="#333" stroke-width="0.6"/>
<text x="665.6" y="43.22" class="t">80</text>
<line x1="376.8" y1="11.20" x2="379.5" y2="11.20" stroke="#333" stroke-width="0.6"/>
<text x="375.2" y="13.50" text-anchor="end" class="t">10</text>
<line x1="660.5" y1="11.20" x2="663.2" y2="11.20" stroke="#333" stroke-width="0.6"/>
<text x="665.6" y="13.50" class="t">100</text>
<text transform="translate(361.4,85.8) rotate(-90)" text-anchor="middle" class="t">−log<tspan font-size="4.6" dy="1.6">10</tspan><tspan dy="-1.6">[</tspan><tspan font-style="italic">P</tspan>]</text>
<text transform="translate(677.1,83.6) rotate(90)" text-anchor="middle" class="t" style="font-size:6.4px">Recombination rate (cM Mb<tspan font-size="4.6" dy="-2.4">−1</tspan><tspan dy="2.4">)</tspan></text>
<rect x="379.5" y="169.8" width="281" height="12.7" fill="none" stroke="#7f7f7f" stroke-width="1.1"/>
<text x="468.6" y="176.6" class="t">Credible set (seven sites, 4,544 kb)</text>
<rect x="517.1" y="177.8" width="6.0" height="2.7" rx="1.2" fill="#ee0000"/>
<rect x="379.5" y="184.6" width="281" height="50.1" fill="none" stroke="#7f7f7f" stroke-width="1.1"/>
<line x1="396.50" y1="234.7" x2="396.50" y2="237.6" stroke="#333" stroke-width="0.6"/>
<text x="396.50" y="245.0" text-anchor="middle" class="t">45.5</text>
<line x1="465.60" y1="234.7" x2="465.60" y2="237.6" stroke="#333" stroke-width="0.6"/>
<text x="465.60" y="245.0" text-anchor="middle" class="t">45.6</text>
<line x1="534.70" y1="234.7" x2="534.70" y2="237.6" stroke="#333" stroke-width="0.6"/>
<text x="534.70" y="245.0" text-anchor="middle" class="t">45.7</text>
<line x1="603.80" y1="234.7" x2="603.80" y2="237.6" stroke="#333" stroke-width="0.6"/>
<text x="603.80" y="245.0" text-anchor="middle" class="t">45.8</text>
<text x="484.8" y="255.6" class="t">Position on chr. 19 (Mb)</text>
<text x="387.2" y="189.7" class="g">RTN2</text>
<path d="M381.2 187.6h4.2" stroke="#111" stroke-width="0.85"/><path d="M380.8 187.6l2.6 -1.5v3z" fill="#111"/>
<line x1="386.0" y1="191.0" x2="394.2" y2="191.0" stroke="#23239a" stroke-width="0.6"/>
<rect x="386.0" y="190.1" width="1.4" height="1.8" fill="#23239a"/>
<rect x="388.6" y="190.1" width="1.2" height="1.8" fill="#23239a"/>
<rect x="391.0" y="190.1" width="1.2" height="1.8" fill="#23239a"/>
<rect x="393.0" y="190.1" width="1.2" height="1.8" fill="#23239a"/>
<text x="431.9" y="189.7" class="g">OPA3</text>
<path d="M425.9 187.6h4.2" stroke="#111" stroke-width="0.85"/><path d="M425.5 187.6l2.6 -1.5v3z" fill="#111"/>
<line x1="415.2" y1="191.0" x2="455.4" y2="191.0" stroke="#23239a" stroke-width="0.6"/>
<rect x="415.0" y="190.1" width="1.4" height="1.8" fill="#23239a"/>
<rect x="454.6" y="190.1" width="1.0" height="1.8" fill="#23239a"/>
<text x="382.1" y="199.7" class="g">PPM1N</text>
<path d="M403.9 197.6h4.2" stroke="#111" stroke-width="0.85"/><path d="M408.7 197.6l-2.6 -1.5v3z" fill="#111"/>
<line x1="395.0" y1="201.2" x2="397.8" y2="201.2" stroke="#23239a" stroke-width="0.6"/>
<rect x="395.0" y="200.3" width="2.8" height="1.8" fill="#23239a"/>
<text x="459.9" y="199.7" class="g">GPR4</text>
<path d="M453.9 197.6h4.2" stroke="#111" stroke-width="0.85"/><path d="M453.5 197.6l2.6 -1.5v3z" fill="#111"/>
<line x1="458.7" y1="201.4" x2="467.6" y2="201.4" stroke="#23239a" stroke-width="0.6"/>
<rect x="458.7" y="200.5" width="1.9" height="1.8" fill="#23239a"/>
<rect x="466.8" y="200.5" width="0.8" height="1.8" fill="#23239a"/>
<text x="395.1" y="209.5" class="g">VASP</text>
<path d="M412.1 207.4h4.2" stroke="#111" stroke-width="0.85"/><path d="M416.9 207.4l-2.6 -1.5v3z" fill="#111"/>
<line x1="401.2" y1="211.6" x2="415.2" y2="211.6" stroke="#23239a" stroke-width="0.6"/>
<rect x="401.2" y="210.7" width="1.0" height="1.8" fill="#23239a"/>
<rect x="405.0" y="210.7" width="1.0" height="1.8" fill="#23239a"/>
<rect x="409.0" y="210.7" width="6.2" height="1.8" fill="#23239a"/>
<text x="482.9" y="189.5" class="g">EML2</text>
<path d="M476.9 187.4h4.2" stroke="#111" stroke-width="0.85"/><path d="M476.5 187.4l2.6 -1.5v3z" fill="#111"/>
<line x1="472.5" y1="191.0" x2="498.0" y2="191.0" stroke="#23239a" stroke-width="0.6"/>
<rect x="472.5" y="190.1" width="0.8" height="1.8" fill="#23239a"/>
<rect x="476.0" y="190.1" width="1.2" height="1.8" fill="#23239a"/>
<rect x="478.5" y="190.1" width="1.2" height="1.8" fill="#23239a"/>
<rect x="481.0" y="190.1" width="1.2" height="1.8" fill="#23239a"/>
<rect x="483.5" y="190.1" width="1.2" height="1.8" fill="#23239a"/>
<rect x="486.0" y="190.1" width="1.2" height="1.8" fill="#23239a"/>
<rect x="488.5" y="190.1" width="1.2" height="1.8" fill="#23239a"/>
<rect x="491.0" y="190.1" width="1.2" height="1.8" fill="#23239a"/>
<rect x="493.5" y="190.1" width="1.2" height="1.8" fill="#23239a"/>
<rect x="496.5" y="190.1" width="1.5" height="1.8" fill="#23239a"/>
<text x="505.9" y="189.5" class="g">GIPR</text>
<path d="M521.9 187.4h4.2" stroke="#111" stroke-width="0.85"/><path d="M526.7 187.4l-2.6 -1.5v3z" fill="#111"/>
<line x1="513.3" y1="191.0" x2="524.0" y2="191.0" stroke="#23239a" stroke-width="0.6"/>
<rect x="513.3" y="190.1" width="1.7" height="1.8" fill="#23239a"/>
<rect x="516.0" y="190.1" width="1.4" height="1.8" fill="#23239a"/>
<rect x="518.4" y="190.1" width="1.2" height="1.8" fill="#23239a"/>
<rect x="520.6" y="190.1" width="1.2" height="1.8" fill="#23239a"/>
<rect x="522.8" y="190.1" width="1.2" height="1.8" fill="#23239a"/>
<text x="488.3" y="199.7" class="g">MIR330</text>
<path d="M482.3 197.6h4.2" stroke="#111" stroke-width="0.85"/><path d="M481.9 197.6l2.6 -1.5v3z" fill="#111"/>
<line x1="493.0" y1="201.5" x2="493.6" y2="201.5" stroke="#23239a" stroke-width="0.6"/>
<rect x="492.8" y="200.6" width="0.8" height="1.8" fill="#23239a"/>
<text x="522.8" y="199.7" class="g">SNRPD2</text>
<path d="M516.8 197.6h4.2" stroke="#111" stroke-width="0.85"/><path d="M516.4 197.6l2.6 -1.5v3z" fill="#111"/>
<line x1="526.6" y1="201.5" x2="529.0" y2="201.5" stroke="#23239a" stroke-width="0.6"/>
<rect x="526.6" y="200.6" width="2.4" height="1.8" fill="#23239a"/>
<text x="499.0" y="210.1" class="g">MIR642A</text>
<path d="M525.0 208.0h4.2" stroke="#111" stroke-width="0.85"/><path d="M529.8 208.0l-2.6 -1.5v3z" fill="#111"/>
<line x1="518.0" y1="211.5" x2="518.6" y2="211.5" stroke="#23239a" stroke-width="0.6"/>
<rect x="517.9" y="210.6" width="0.7" height="1.8" fill="#23239a"/>
<text x="512.0" y="220.2" class="g">MIR642B</text>
<path d="M506.0 218.1h4.2" stroke="#111" stroke-width="0.85"/><path d="M505.6 218.1l2.6 -1.5v3z" fill="#111"/>
<line x1="518.5" y1="221.5" x2="519.1" y2="221.5" stroke="#23239a" stroke-width="0.6"/>
<rect x="518.4" y="220.6" width="0.7" height="1.8" fill="#23239a"/>
<text x="520.2" y="230.1" class="g">OPCTL</text>
<path d="M541.3 228.0h4.2" stroke="#111" stroke-width="0.85"/><path d="M546.1 228.0l-2.6 -1.5v3z" fill="#111"/>
<line x1="529.8" y1="231.7" x2="538.8" y2="231.7" stroke="#23239a" stroke-width="0.6"/>
<rect x="529.8" y="230.8" width="1.6" height="1.8" fill="#23239a"/>
<rect x="532.4" y="230.8" width="1.6" height="1.8" fill="#23239a"/>
<rect x="535.0" y="230.8" width="1.6" height="1.8" fill="#23239a"/>
<rect x="537.4" y="230.8" width="1.4" height="1.8" fill="#23239a"/>
<text x="543.6" y="189.7" class="g">FBXO46</text>
<path d="M537.6 187.6h4.2" stroke="#111" stroke-width="0.85"/><path d="M537.2 187.6l2.6 -1.5v3z" fill="#111"/>
<line x1="543.2" y1="191.0" x2="557.0" y2="191.0" stroke="#23239a" stroke-width="0.6"/>
<rect x="543.2" y="190.1" width="1.8" height="1.8" fill="#23239a"/>
<rect x="556.0" y="190.1" width="1.0" height="1.8" fill="#23239a"/>
<text x="580.0" y="189.7" class="g">SIX5</text>
<path d="M574.0 187.6h4.2" stroke="#111" stroke-width="0.85"/><path d="M573.6 187.6l2.6 -1.5v3z" fill="#111"/>
<line x1="581.3" y1="191.0" x2="583.6" y2="191.0" stroke="#23239a" stroke-width="0.6"/>
<rect x="581.3" y="190.1" width="2.3" height="1.8" fill="#23239a"/>
<text x="602.7" y="189.7" class="g">RSPH6A</text>
<path d="M596.7 187.6h4.2" stroke="#111" stroke-width="0.85"/><path d="M596.3 187.6l2.6 -1.5v3z" fill="#111"/>
<line x1="602.7" y1="191.0" x2="615.7" y2="191.0" stroke="#23239a" stroke-width="0.6"/>
<rect x="602.7" y="190.1" width="1.0" height="1.8" fill="#23239a"/>
<rect x="606.0" y="190.1" width="1.0" height="1.8" fill="#23239a"/>
<rect x="609.5" y="190.1" width="1.0" height="1.8" fill="#23239a"/>
<rect x="613.0" y="190.1" width="2.7" height="1.8" fill="#23239a"/>
<text x="636.2" y="189.7" class="g">FOXA3</text>
<path d="M657.0 187.6h4.2" stroke="#111" stroke-width="0.85"/><path d="M661.8 187.6l-2.6 -1.5v3z" fill="#111"/>
<line x1="649.5" y1="191.0" x2="656.6" y2="191.0" stroke="#23239a" stroke-width="0.6"/>
<rect x="649.5" y="190.1" width="1.0" height="1.8" fill="#23239a"/>
<rect x="654.5" y="190.1" width="2.1" height="1.8" fill="#23239a"/>
<text x="554.2" y="199.9" class="g">BHMG1</text>
<path d="M576.6 197.8h4.2" stroke="#111" stroke-width="0.85"/><path d="M581.4 197.8l-2.6 -1.5v3z" fill="#111"/>
<line x1="558.3" y1="201.4" x2="580.6" y2="201.4" stroke="#23239a" stroke-width="0.6"/>
<rect x="558.3" y="200.5" width="1.0" height="1.8" fill="#23239a"/>
<rect x="562.0" y="200.5" width="1.0" height="1.8" fill="#23239a"/>
<rect x="566.0" y="200.5" width="1.0" height="1.8" fill="#23239a"/>
<rect x="570.0" y="200.5" width="1.5" height="1.8" fill="#23239a"/>
<rect x="573.0" y="200.5" width="3.0" height="1.8" fill="#23239a"/>
<rect x="577.0" y="200.5" width="3.6" height="1.8" fill="#23239a"/>
<text x="592.0" y="199.9" class="g">DMWD</text>
<path d="M586.0 197.8h4.2" stroke="#111" stroke-width="0.85"/><path d="M585.6 197.8l2.6 -1.5v3z" fill="#111"/>
<line x1="593.0" y1="201.4" x2="600.2" y2="201.4" stroke="#23239a" stroke-width="0.6"/>
<rect x="593.0" y="200.5" width="2.0" height="1.8" fill="#23239a"/>
<rect x="598.0" y="200.5" width="2.2" height="1.8" fill="#23239a"/>
<text x="627.3" y="199.9" class="g">SYMPK</text>
<path d="M621.3 197.8h4.2" stroke="#111" stroke-width="0.85"/><path d="M620.9 197.8l2.6 -1.5v3z" fill="#111"/>
<line x1="615.7" y1="201.4" x2="649.0" y2="201.4" stroke="#23239a" stroke-width="0.6"/>
<rect x="615.7" y="200.5" width="1.3" height="1.8" fill="#23239a"/>
<rect x="619.0" y="200.5" width="5.0" height="1.8" fill="#23239a"/>
<rect x="626.0" y="200.5" width="1.2" height="1.8" fill="#23239a"/>
<rect x="629.0" y="200.5" width="1.2" height="1.8" fill="#23239a"/>
<rect x="632.0" y="200.5" width="1.2" height="1.8" fill="#23239a"/>
<rect x="635.0" y="200.5" width="1.2" height="1.8" fill="#23239a"/>
<rect x="638.0" y="200.5" width="1.2" height="1.8" fill="#23239a"/>
<rect x="641.0" y="200.5" width="1.2" height="1.8" fill="#23239a"/>
<rect x="644.0" y="200.5" width="1.2" height="1.8" fill="#23239a"/>
<rect x="647.8" y="200.5" width="1.2" height="1.8" fill="#23239a"/>
<text x="584.2" y="209.7" class="g">DMPK</text>
<path d="M578.2 207.6h4.2" stroke="#111" stroke-width="0.85"/><path d="M577.8 207.6l2.6 -1.5v3z" fill="#111"/>
<line x1="584.1" y1="211.7" x2="592.1" y2="211.7" stroke="#23239a" stroke-width="0.6"/>
<rect x="584.1" y="210.8" width="2.0" height="1.8" fill="#23239a"/>
<rect x="587.0" y="210.8" width="1.5" height="1.8" fill="#23239a"/>
<rect x="590.0" y="210.8" width="2.1" height="1.8" fill="#23239a"/>
<text x="584.1" y="220.2" class="g">AC011530.1</text>
<path d="M578.1 218.1h4.2" stroke="#111" stroke-width="0.85"/><path d="M577.7 218.1l2.6 -1.5v3z" fill="#111"/>
<line x1="590.0" y1="221.5" x2="595.5" y2="221.5" stroke="#23239a" stroke-width="0.6"/>
<rect x="590.0" y="220.6" width="0.8" height="1.8" fill="#23239a"/>
<rect x="592.0" y="220.6" width="0.8" height="1.8" fill="#23239a"/>
<rect x="594.7" y="220.6" width="0.8" height="1.8" fill="#23239a"/>
</svg></body></html>
